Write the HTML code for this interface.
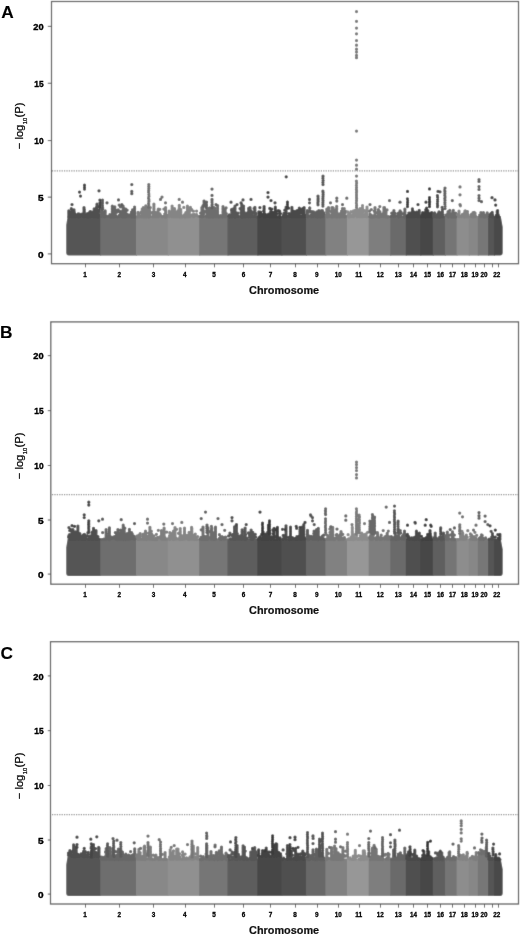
<!DOCTYPE html>
<html><head><meta charset="utf-8"><title>Manhattan plots</title>
<style>
html,body{margin:0;padding:0;background:#fff}
svg{display:block}
text{font-family:"Liberation Sans",sans-serif;fill:#111}
.yt{font-size:8.6px;font-weight:bold;fill:#000;stroke:#000;stroke-width:.38px}
.xt{font-size:6.3px;font-weight:bold;fill:#000;stroke:#000;stroke-width:.28px}
.xl{font-size:11px;font-weight:bold;stroke:#111;stroke-width:.2px}
.yl text{font-size:11.2px;fill:#000;stroke:#000;stroke-width:.22px}
.yl text.sub{font-size:5.8px}
.pl{font-size:17.3px;font-weight:bold;fill:#000;stroke:#000;stroke-width:.12px}
</style></head><body>
<svg width="520" height="935" viewBox="0 0 520 935">
<defs><filter id="soft" x="0" y="0" width="520" height="935" filterUnits="userSpaceOnUse"><feConvolveMatrix order="3" kernelMatrix="0.011 0.084 0.011 0.084 0.62 0.084 0.011 0.084 0.011" divisor="1" edgeMode="duplicate" preserveAlpha="true"/></filter></defs>
<g filter="url(#soft)">
<rect width="520" height="935" fill="#fff"/>
<path d="M67.7 215.9L101.2 215.9V255.6H68.7Q66.2 255.6 66.2 252.6V224.9Z" fill="#555555"/>
<rect x="100.2" y="215.9" width="36.8" height="39.7" fill="#6e6e6e"/>
<rect x="136" y="215.9" width="32.8" height="39.7" fill="#888888"/>
<rect x="167.8" y="215.9" width="32.4" height="39.7" fill="#909090"/>
<rect x="199.2" y="215.9" width="29.3" height="39.7" fill="#767676"/>
<rect x="227.5" y="215.9" width="30.9" height="39.7" fill="#5d5d5d"/>
<rect x="257.4" y="215.9" width="25" height="39.7" fill="#474747"/>
<rect x="281.4" y="215.9" width="25.6" height="39.7" fill="#505050"/>
<rect x="306" y="215.9" width="20.4" height="39.7" fill="#686868"/>
<rect x="325.4" y="215.9" width="22.5" height="39.7" fill="#818181"/>
<rect x="346.9" y="215.9" width="22.8" height="39.7" fill="#979797"/>
<rect x="368.7" y="215.9" width="22.5" height="39.7" fill="#7e7e7e"/>
<rect x="390.2" y="215.9" width="16.6" height="39.7" fill="#6b6b6b"/>
<rect x="405.8" y="215.9" width="15.5" height="39.7" fill="#4f4f4f"/>
<rect x="420.3" y="215.9" width="13.5" height="39.7" fill="#464646"/>
<rect x="432.8" y="215.9" width="13.1" height="39.7" fill="#5e5e5e"/>
<rect x="444.9" y="215.9" width="12.7" height="39.7" fill="#757575"/>
<rect x="456.6" y="215.9" width="13.2" height="39.7" fill="#8d8d8d"/>
<rect x="468.8" y="215.9" width="10" height="39.7" fill="#878787"/>
<rect x="477.8" y="215.9" width="11.3" height="39.7" fill="#777777"/>
<rect x="488.1" y="215.9" width="6.9" height="39.7" fill="#555555"/>
<path d="M494 215.9H500.7L502.7 226.9V252.6Q502.7 255.6 500.2 255.6H494Z" fill="#484848"/>
<path d="M87.9 215.8h0M71 215.6h0M98.8 211.5h0M81.9 215.1h0M83.8 216.9h0M99.3 206.5h0M94.4 216.6h0M98.1 215h0M98.3 216.1h0M74.1 216.4h0M98.5 215.6h0M77.7 214.4h0M71.3 208.7h0M86.1 214.7h0M96.5 215.4h0M91.3 212.8h0M74.3 212.4h0M69.4 211.7h0M75.6 216.6h0M76.2 215.4h0M73.7 216.5h0M85.7 214.9h0M79.5 214.2h0M98.8 217h0M68.8 213.8h0M90.1 211.7h0M83.2 216.4h0M91.2 214h0M91.2 216.6h0M92.9 213.6h0M79.2 216.8h0M96.3 214.6h0M81.2 215.8h0M99.2 214.5h0M81.9 215.2h0M70.8 216.2h0M87.4 213.5h0M77.6 216.8h0M96.5 216.9h0M82 214.2h0M78.4 216.9h0M93.3 213.6h0M94.3 215h0M90.4 212.4h0M78 215.2h0M77.8 215.8h0M87.9 217h0M93.4 211.9h0M87.4 216.1h0M80.5 215.8h0M97.3 216.5h0M87.7 213.8h0M95.6 215.7h0M90.7 215.4h0M88.2 216.5h0M74.9 214h0M98.8 210.5h0M85 215.8h0M78.2 213.8h0M85.4 216h0M78.7 215.8h0M84.3 216.4h0M94.4 216.7h0M77.3 216.4h0M94.6 214h0M74.7 215h0M80.7 215.7h0M98.1 213.4h0M93.7 214h0M71.5 216.4h0M91.3 215.5h0M96.4 216.7h0M96.4 215.3h0M96.4 213.9h0M96.4 212.6h0M96.4 211.2h0M96.4 211.2h0M97 216.7h0M97 215.3h0M97 213.9h0M97 212.6h0M97 211.2h0M97 209.8h0M97 208.5h0M97 207.1h0M97 205.7h0M97 204.4h0M97 204.2h0M95.9 216.7h0M95.9 215.3h0M95.9 213.9h0M95.9 212.6h0M95.9 212.5h0M90.9 216.7h0M90.9 215.3h0M90.9 213.9h0M90.9 212.6h0M90.9 211.9h0M94.2 216.7h0M94.2 215.3h0M94.2 213.9h0M94.2 212.6h0M94.2 211.2h0M94.2 209.8h0M94.2 208.8h0M72.1 216.7h0M72.1 215.3h0M72.1 213.9h0M72.1 212.6h0M72.1 211.2h0M72.1 209.8h0M72.1 209.5h0M68.8 216.7h0M68.8 215.3h0M68.8 213.9h0M68.8 212.6h0M68.8 211.2h0M68.8 210.9h0M96.6 216.7h0M96.6 215.3h0M96.6 213.9h0M96.6 212.6h0M96.6 211.2h0M96.6 209.8h0M96.6 208.5h0M96.6 207.1h0M96.6 207h0M84 216.7h0M84 215.3h0M84 213.9h0M84 212.6h0M84 211.2h0M84 209.8h0M84 208.5h0M84 207.7h0M89.6 216.7h0M89.6 215.3h0M89.6 213.9h0M89.6 212.6h0M89.6 212.4h0M71.5 216.7h0M71.5 215.3h0M71.5 213.9h0M71.5 212.6h0M71.5 212.5h0M84.3 216.7h0M84.3 215.3h0M84.3 213.9h0M84.3 212.6h0M84.3 211.2h0M84.3 209.8h0M84.3 209.7h0M74 216.7h0M74 215.3h0M74 213.9h0M74 212.6h0M74 211.2h0M74 209.9h0" stroke="#4f4f4f" stroke-width="3.25" stroke-linecap="round" fill="none"/>
<path d="M84.5 185.2h0M84.5 187.4h0M84.5 189.1h0M79.5 192h0M80.5 196h0M99 190.8h0M72 204.5h0M99.9 200h0M100 202.2h0M100 203.6h0M100.1 205h0M100.1 207.2h0M100.1 208.6h0" stroke="#454545" stroke-width="3.25" stroke-linecap="round" fill="none"/>
<path d="M134.9 213.3h0M101.5 216.6h0M116.5 216.3h0M101.5 214.2h0M128.4 216.6h0M118.2 209.8h0M132.2 216.3h0M127.6 215.5h0M114.9 214.1h0M131.1 216.7h0M127.2 216.1h0M114.9 216.5h0M133.3 216.9h0M112.6 216.9h0M123 216.6h0M127.1 210.2h0M118.4 211.4h0M120.4 206.8h0M122.8 215.6h0M103 212.6h0M110.8 217h0M131.7 216.2h0M102.7 208.8h0M117.3 210.9h0M133.1 216.5h0M117 210.3h0M115.3 215.9h0M119.2 205.1h0M133.6 216.4h0M131.5 215.9h0M110.3 216.8h0M122.7 216.2h0M134.5 213.6h0M112.8 216.3h0M105.1 215.6h0M122.3 216h0M109.8 215.6h0M113.6 217h0M119.8 216.2h0M117.6 216.8h0M111.2 215.9h0M111.4 216.4h0M105 216.6h0M120.5 213.5h0M133.1 213.7h0M116 215.6h0M114.7 213h0M120.3 215.7h0M119.5 215.2h0M127 214.4h0M120.4 211.4h0M123.3 215.6h0M103.8 216.3h0M112.6 211.3h0M119.4 216.5h0M125.2 213.6h0M115 215.3h0M123.8 214.9h0M128.6 215.2h0M131.4 212h0M125.3 215.6h0M106 216.3h0M123.2 215.9h0M119.7 215.5h0M131.3 213.6h0M133.4 215.7h0M134.9 217h0M128.2 216.5h0M109.9 214.7h0M129.1 215h0M110.2 216.5h0M117 212.1h0M121.1 214.9h0M111.4 215.8h0M115.3 213.6h0M104.1 215.3h0M134.1 215.3h0M113.9 216.6h0M134.9 215.7h0M107.8 216.4h0M112.3 216.7h0M112.3 215.3h0M112.3 213.9h0M112.3 212.6h0M112.3 211.2h0M112.3 209.8h0M112.3 208.5h0M112.3 207.1h0M112.3 206.2h0M125.8 216.7h0M125.8 215.3h0M125.8 213.9h0M125.8 212.6h0M125.8 211.2h0M125.8 209.8h0M125.8 209.2h0M104.2 216.7h0M104.2 215.3h0M104.2 213.9h0M104.2 212.7h0M124.2 216.7h0M124.2 215.3h0M124.2 213.9h0M124.2 212.6h0M124.2 211.2h0M124.2 209.8h0M124.2 208.7h0M114.8 216.7h0M114.8 215.3h0M114.8 213.9h0M114.8 212.6h0M114.8 211.2h0M114.8 209.8h0M114.8 208.5h0M114.8 207.1h0M114.8 206.9h0M104.1 216.7h0M104.1 215.3h0M104.1 213.9h0M104.1 212.6h0M104.1 212h0M105.2 216.7h0M105.2 215.3h0M105.2 213.9h0M105.2 212.6h0M105.2 211.2h0M105.2 210.9h0M132.5 216.7h0M132.5 215.3h0M132.5 213.9h0M132.5 212.6h0M132.5 211.2h0M132.5 209.9h0M123.1 216.7h0M123.1 215.3h0M123.1 213.9h0M123.1 212.6h0M123.1 211.2h0M123.1 209.8h0M123.1 208.5h0M123.1 207.1h0M123.1 206.2h0M114.2 216.7h0M114.2 215.3h0M114.2 213.9h0M114.2 212.6h0M114.2 211.2h0M114.2 210.8h0M101.5 216.7h0M101.5 215.3h0M101.5 213.9h0M101.5 212.6h0M101.5 211.2h0M101.5 209.8h0M101.5 209.4h0M134.6 216.7h0M134.6 215.3h0M134.6 213.9h0M134.6 212.6h0M134.6 211.2h0M134.6 209.8h0M134.6 208.5h0M134.6 207.1h0M134.6 207h0M121.8 216.7h0M121.8 215.3h0M121.8 213.9h0M121.8 213.2h0M112.7 216.7h0M112.7 215.3h0M112.7 213.9h0M112.7 212.6h0M112.7 211.2h0M112.7 209.8h0M112.7 209.2h0" stroke="#666666" stroke-width="3.25" stroke-linecap="round" fill="none"/>
<path d="M131.8 184.6h0M131.8 191.4h0M131.8 193.7h0M118.5 199.9h0M121.8 204.5h0M107 202.8h0M102.5 200h0M102.5 202.1h0M102.4 203.6h0M102.4 205.6h0M102.6 207.4h0M102.4 209.2h0" stroke="#5a5a5a" stroke-width="3.25" stroke-linecap="round" fill="none"/>
<path d="M160.6 215.4h0M159.9 213.9h0M158.3 209.2h0M152.4 216.5h0M144.8 213.8h0M166.8 215.5h0M154.1 215.3h0M142.2 209.1h0M165.2 217h0M146.1 216.9h0M154.7 215.6h0M137.9 216.9h0M141.2 211.9h0M157.6 216.1h0M166.8 215.2h0M138.5 216.4h0M164 216.4h0M154.8 216.2h0M138.9 213.7h0M166 216.9h0M153 212.3h0M138.7 214.1h0M151.9 213h0M164.7 214.1h0M142.7 215.2h0M142 214.5h0M140 216.4h0M146.3 214h0M163.1 216.5h0M140.9 216.7h0M146.1 216.6h0M143.9 216.9h0M156.8 214.4h0M145.9 213.3h0M145.4 216.2h0M163.9 209h0M156.7 215.9h0M162.3 216.8h0M152.5 212.3h0M142.1 215.9h0M160.1 215.8h0M153.2 215.8h0M157.7 215.3h0M143.3 211.1h0M159.8 209.3h0M144.1 214.2h0M166.9 216.1h0M147 210h0M149 217h0M157.8 214.7h0M154.6 214.3h0M150.3 207.5h0M157.3 214.8h0M139 216.7h0M164.7 216.5h0M141.4 212.9h0M147.7 216.1h0M158.6 213.8h0M149.6 216.7h0M149.6 215.3h0M149.6 213.9h0M149.6 212.6h0M149.6 211.2h0M149.6 209.9h0M158.1 216.7h0M158.1 215.3h0M158.1 213.9h0M158.1 212.6h0M158.1 211.2h0M158.1 210.3h0M156.9 216.7h0M156.9 215.3h0M156.9 213.9h0M156.9 212.6h0M156.9 212.5h0M145.3 216.7h0M145.3 215.3h0M145.3 213.9h0M145.3 212.6h0M145.3 211.2h0M145.3 209.8h0M145.3 208.5h0M145.3 208.3h0M148.5 216.7h0M148.5 215.3h0M148.5 213.9h0M148.5 212.6h0M148.5 211.2h0M148.5 209.8h0M148.5 208.5h0M148.5 207.6h0M145.6 216.7h0M145.6 215.3h0M145.6 213.9h0M145.6 212.6h0M145.6 211.2h0M145.6 211.1h0M138 216.7h0M138 215.3h0M138 213.9h0M138 212.6h0M138 212.3h0M153.9 216.7h0M153.9 215.3h0M153.9 213.9h0M153.9 212.6h0M153.9 211.2h0M153.9 209.8h0M153.9 208.5h0M153.9 207.1h0M153.9 205.7h0M153.9 204.4h0M153.9 204.2h0M145.8 216.7h0M145.8 215.3h0M145.8 213.9h0M145.8 212.6h0M145.8 211.2h0M145.8 209.8h0M145.8 208.5h0M145.8 207.1h0M145.8 205.8h0M143.3 216.7h0M143.3 215.3h0M143.3 213.9h0M143.3 212.6h0M143.3 211.2h0M143.3 209.8h0M143.3 208.5h0M143.3 207.6h0M165.6 216.7h0M165.6 215.3h0M165.6 213.9h0M165.6 212.6h0M165.6 211.2h0M165.6 209.8h0M165.6 208.5h0M165.6 207.5h0M155.9 216.7h0M155.9 215.3h0M155.9 213.9h0M155.9 212.6h0M155.9 212.5h0" stroke="#7e7e7e" stroke-width="3.25" stroke-linecap="round" fill="none"/>
<path d="M162 197.1h0M160.5 199.4h0M165.5 202.8h0M148.8 184.5h0M148.8 186.4h0M148.8 188.3h0M148.7 190.3h0M148.6 192.1h0M148.8 194.1h0M148.9 196.2h0M148.6 198.2h0M148.9 199.9h0M148.9 201.4h0M148.6 203.5h0M148.8 205.1h0M148.6 207.1h0" stroke="#6f6f6f" stroke-width="3.25" stroke-linecap="round" fill="none"/>
<path d="M186 216.6h0M185.1 216.6h0M178.9 214.2h0M185.8 212.7h0M193.3 214.5h0M180 213.8h0M179.3 210.5h0M175.4 216.8h0M193.4 211.2h0M189.9 216.7h0M189.1 211.6h0M177.1 216.2h0M182.1 216h0M194.4 214.6h0M183.7 215.7h0M180.3 216.5h0M176.1 216.5h0M191.2 215.1h0M181.1 216.6h0M187.2 215.3h0M179.8 216.9h0M196.6 211.1h0M172.6 216.7h0M180.4 213h0M190.4 207.4h0M177.8 215.7h0M191.4 210.1h0M180.2 216.7h0M184.9 215.7h0M171.8 213h0M170.5 214.2h0M181 215.6h0M185 217h0M196.6 214.7h0M193.4 216.4h0M174.9 211.9h0M192.7 215.8h0M192.5 215.3h0M191.5 209.3h0M171.6 212.3h0M180.6 216.6h0M176.1 213.8h0M179.6 217h0M176.9 213.9h0M178.6 216.3h0M174.9 216.3h0M184.9 216.8h0M180.8 216.6h0M188.8 212.5h0M179.2 208.6h0M195.1 214.9h0M193.6 216.7h0M182.1 216.9h0M186.3 213.1h0M198.2 216.3h0M177.9 216.3h0M175.6 215.1h0M187.9 212.9h0M193.3 215.7h0M183.8 207.4h0M170.5 214.6h0M184.6 214.7h0M185.1 215.8h0M192.4 214.9h0M195.6 215.7h0M178.9 214.7h0M187.4 216.7h0M187.4 215.3h0M187.4 213.9h0M187.4 212.6h0M187.4 211.2h0M187.4 209.8h0M187.4 208.5h0M187.4 207.1h0M187.4 206.1h0M174.5 216.7h0M174.5 215.3h0M174.5 213.9h0M174.5 212.6h0M174.5 211.2h0M174.5 209.8h0M174.5 208.5h0M169.1 216.7h0M169.1 215.3h0M169.1 213.9h0M169.1 212.6h0M169.1 211.2h0M169.1 211h0M187.4 216.7h0M187.4 215.3h0M187.4 213.9h0M187.4 212.6h0M187.4 211.2h0M187.4 210.7h0M189.3 216.7h0M189.3 215.3h0M189.3 213.9h0M189.3 212.6h0M189.3 212.4h0M189.3 216.7h0M189.3 215.3h0M189.3 213.9h0M189.3 212.6h0M189.3 211.2h0M189.3 210.5h0M172.1 216.7h0M172.1 215.3h0M172.1 213.9h0M172.1 212.6h0M172.1 211.2h0M172.1 209.8h0M172.1 208.5h0M172.1 207.1h0M172.1 206.1h0M179.3 216.7h0M179.3 215.3h0M179.3 213.9h0M179.3 212.6h0M179.3 211.2h0M179.3 209.8h0M179.3 208.5h0M179.3 207.1h0M179.3 205.7h0M179.3 205.3h0M189.2 216.7h0M189.2 215.3h0M189.2 213.9h0M189.2 212.6h0M189.2 211.2h0M189.2 209.8h0M189.2 208.5h0M189.2 208.2h0M177.8 216.7h0M177.8 215.3h0M177.8 213.9h0M177.8 212.6h0M177.8 211.2h0M177.8 210.8h0M187.4 216.7h0M187.4 215.3h0M187.4 213.9h0M187.4 212.6h0M187.4 211.2h0M187.4 209.8h0M187.4 208.6h0M180.8 216.7h0M180.8 215.3h0M180.8 213.9h0M180.8 212.6h0M180.8 211.2h0M180.8 209.8h0M180.8 209.7h0" stroke="#858585" stroke-width="3.25" stroke-linecap="round" fill="none"/>
<path d="M179.2 199.4h0M182.5 202.2h0" stroke="#767676" stroke-width="3.25" stroke-linecap="round" fill="none"/>
<path d="M222.8 216.8h0M212.1 213h0M210.3 216.3h0M218.6 216.9h0M203.5 214.1h0M209.1 215.4h0M219.3 216.9h0M209.2 214.1h0M208.4 216.9h0M216.2 211.1h0M226.1 207.8h0M210.6 215.3h0M217.4 216.6h0M210.5 216.3h0M221.7 216.4h0M223 212.6h0M207.8 215.9h0M212.3 215h0M202.8 215h0M204.1 211.1h0M216.3 214.8h0M221.9 216.3h0M213.1 217h0M223.7 212.5h0M208 216.3h0M206.1 216.2h0M210.9 211.4h0M207.2 215.7h0M211.4 214.8h0M226.3 215.3h0M221.9 215.8h0M200.6 213h0M200.1 216.3h0M211.2 216.8h0M226.3 213.6h0M202 215.9h0M211.8 216.2h0M208.5 216.3h0M222.3 216.9h0M210.1 216.8h0M215.3 215.1h0M212.8 210.1h0M208.8 216.7h0M226.1 213.8h0M206.2 216.2h0M204 212.3h0M220.4 215.6h0M202.6 215.9h0M203.2 216.1h0M215.6 214h0M224.7 216.7h0M209.7 212.3h0M222.9 216.4h0M213.6 216.7h0M213.6 215.3h0M213.6 213.9h0M213.6 212.6h0M213.6 211.2h0M213.6 209.8h0M213.6 208.5h0M213.6 207.6h0M223 216.7h0M223 215.3h0M223 213.9h0M223 212.6h0M223 211.2h0M223 209.8h0M223 208.5h0M223 207.1h0M223 206.7h0M214.5 216.7h0M214.5 215.3h0M214.5 213.9h0M214.5 212.6h0M214.5 211.2h0M214.5 209.8h0M214.5 208.5h0M214.5 207.8h0M217.6 216.7h0M217.6 215.3h0M217.6 213.9h0M217.6 212.6h0M217.6 211.2h0M217.6 209.8h0M217.6 208.5h0M217.6 207.1h0M217.6 205.7h0M217.6 205.5h0M206.9 216.7h0M206.9 215.3h0M206.9 213.9h0M206.9 212.6h0M206.9 211.2h0M206.9 209.8h0M206.9 209.7h0M209.7 216.7h0M209.7 215.3h0M209.7 213.9h0M209.7 212.6h0M209.7 211.2h0M209.7 209.8h0M209.7 208.5h0M209.7 208.1h0M212.1 216.7h0M212.1 215.3h0M212.1 213.9h0M212.1 212.6h0M212.1 211.2h0M212.1 209.8h0M212.1 209.5h0M225.2 216.7h0M225.2 215.3h0M225.2 213.9h0M225.2 212.6h0M225.2 211.2h0M225.2 209.8h0M225.2 209.2h0M209.3 216.7h0M209.3 215.3h0M209.3 213.9h0M209.3 212.6h0M209.3 211.2h0M209.3 209.8h0M209.3 208.5h0M209.3 208.2h0M202.9 216.7h0M202.9 215.3h0M202.9 213.9h0M202.9 212.6h0M202.9 211.2h0M202.9 209.8h0M202.9 208.5h0M202.9 207.1h0M202.9 205.9h0M201.9 216.7h0M201.9 215.3h0M201.9 213.9h0M201.9 212.6h0M201.9 211.2h0M201.9 209.8h0M201.9 208.5h0M201.9 207.5h0" stroke="#6d6d6d" stroke-width="3.25" stroke-linecap="round" fill="none"/>
<path d="M212 189.1h0M212 195.4h0M212 199.4h0M216 204.5h0M204 201.1h0M212 200h0M212 202.1h0M212.1 204.3h0M212 205.8h0M211.9 207.6h0M204.1 201h0M204.1 202.6h0M203.9 204.4h0M203.9 206h0M206.6 202h0M206.4 204.2h0M206.5 205.8h0M206.4 207.5h0" stroke="#606060" stroke-width="3.25" stroke-linecap="round" fill="none"/>
<path d="M256.1 216.8h0M252.5 215.8h0M237.8 216.6h0M254.9 210.6h0M255.2 213.3h0M252.6 213h0M245 216.8h0M243 211.9h0M252.9 212h0M251.8 216.7h0M249.7 215.6h0M250.8 210.7h0M228.7 216h0M234.9 214.4h0M235 217h0M235.5 214.5h0M248.9 216.8h0M230.5 216.1h0M240 208.6h0M254.1 208.4h0M250.6 215.9h0M237.9 215.8h0M245.1 216.3h0M241.8 215.4h0M234.1 214.5h0M255.5 213.1h0M238 213.1h0M232.3 216.5h0M232.1 216.8h0M253.3 216.4h0M236 212.8h0M237.1 216.1h0M250.7 210.9h0M233.7 212.6h0M233.2 216.3h0M234.5 215.7h0M242.4 217h0M254.8 214.9h0M242.7 209.6h0M231 216.7h0M242.4 213.4h0M251.8 215.7h0M235.5 213.9h0M244 212.5h0M236.5 215.1h0M251.9 215.6h0M256 213.6h0M247.7 215.7h0M248.4 215.6h0M235.2 213.5h0M238 215.8h0M245.6 213.7h0M230.1 216.9h0M231.4 209.9h0M233.6 216.7h0M249.8 209.5h0M252.9 216h0M250.5 214.6h0M244.4 212.7h0M246.8 216h0M247.7 212.7h0M237.7 213.3h0M255.5 216h0M229.3 214.8h0M235 216.7h0M235 215.3h0M235 213.9h0M235 212.6h0M235 211.2h0M235 209.8h0M235 208.5h0M235 207.1h0M235 206.2h0M231.8 216.7h0M231.8 215.3h0M231.8 213.9h0M231.8 212.6h0M231.8 211.2h0M231.8 209.8h0M231.8 209.3h0M249.9 216.7h0M249.9 215.3h0M249.9 213.9h0M249.9 212.6h0M249.9 211.2h0M249.9 209.8h0M249.9 208.6h0M254.9 216.7h0M254.9 215.3h0M254.9 213.9h0M254.9 212.6h0M254.9 211.2h0M254.9 209.8h0M254.9 208.5h0M254.9 207.3h0M243.6 216.7h0M243.6 215.3h0M243.6 213.9h0M243.6 212.6h0M243.6 211.2h0M243.6 209.8h0M243.6 208.5h0M243.6 207.1h0M243.6 206h0M233.7 216.7h0M233.7 215.3h0M233.7 213.9h0M233.7 212.6h0M233.7 211.2h0M233.7 209.8h0M233.7 208.5h0M232.6 216.7h0M232.6 215.3h0M232.6 213.9h0M232.6 212.6h0M232.6 211.2h0M232.6 209.8h0M232.6 209.6h0M248.7 216.7h0M248.7 215.3h0M248.7 213.9h0M248.7 212.6h0M248.7 211.2h0M248.7 209.8h0M248.7 208.5h0M248.7 208.3h0M250 216.7h0M250 215.3h0M250 213.9h0M250 212.6h0M250 211.2h0M250 209.8h0M250 208.5h0M250 207.7h0M241.2 216.7h0M241.2 215.3h0M241.2 213.9h0M241.2 212.6h0M241.2 211.2h0M241.2 210.7h0M241.7 216.7h0M241.7 215.3h0M241.7 213.9h0M241.7 212.6h0M241.7 211.2h0M241.7 209.8h0M241.7 208.5h0M241.7 207.1h0M241.7 205.7h0M241.7 204.4h0M241.7 204.3h0" stroke="#565656" stroke-width="3.25" stroke-linecap="round" fill="none"/>
<path d="M231 202.2h0M237 204.5h0M243 199.9h0M241 202.8h0M251 199.4h0" stroke="#4c4c4c" stroke-width="3.25" stroke-linecap="round" fill="none"/>
<path d="M264.2 216.7h0M272.8 216.8h0M260.6 212.2h0M275.9 216.6h0M268.8 214.5h0M278.3 210.6h0M273.2 216.3h0M264.8 216.4h0M279.5 217h0M267.5 216h0M271.3 215.4h0M271.4 216.5h0M275.3 216.2h0M270.4 209.1h0M261.3 215.9h0M265.5 216.4h0M272.2 214.2h0M264.9 216.7h0M273.7 215.3h0M265.2 214.6h0M260.1 215.7h0M269.2 216.7h0M258.8 215.4h0M274 216.6h0M265.8 214.5h0M271.8 209.1h0M276.7 213.6h0M266.2 216.6h0M263 214.4h0M264.3 216.9h0M260.7 215h0M265.2 214.3h0M273 216.7h0M270.1 215.8h0M258.9 215.7h0M262.5 214.7h0M276.9 216.8h0M273.7 216.3h0M270.6 214.4h0M280.4 213.6h0M263.7 211.1h0M265.1 214.8h0M269.8 208.4h0M259.9 207.6h0M268.6 214h0M272.3 216.7h0M272.3 215.3h0M272.3 213.9h0M272.3 213.4h0M272.9 216.7h0M272.9 215.3h0M272.9 213.9h0M272.9 212.6h0M272.9 212.3h0M275.3 216.7h0M275.3 215.3h0M275.3 213.9h0M275.3 212.6h0M275.3 211.2h0M275.3 209.8h0M275.3 208.5h0M275.3 207.2h0M270.7 216.7h0M270.7 215.3h0M270.7 213.9h0M270.7 212.6h0M270.7 211.8h0M264.1 216.7h0M264.1 215.3h0M264.1 213.9h0M264.1 212.6h0M264.1 211.2h0M264.1 209.8h0M264.1 208.5h0M264.1 207.1h0M264.1 206.5h0M275.2 216.7h0M275.2 215.3h0M275.2 213.9h0M275.2 213.4h0M276.1 216.7h0M276.1 215.3h0M276.1 213.9h0M276.1 212.6h0M276.1 212.6h0M258.9 216.7h0M258.9 215.3h0M258.9 213.9h0M258.9 212.6h0M258.9 211.8h0M279.7 216.7h0M279.7 215.3h0M279.7 213.9h0M279.7 212.6h0M279.7 211.2h0" stroke="#424242" stroke-width="3.25" stroke-linecap="round" fill="none"/>
<path d="M268 192.5h0M268 197.1h0M271 200.5h0M275 202.8h0" stroke="#3a3a3a" stroke-width="3.25" stroke-linecap="round" fill="none"/>
<path d="M293.6 211.3h0M303.3 216.8h0M301.6 216.6h0M304.7 216.9h0M295.8 213.6h0M293.7 216h0M286.6 216.4h0M284 214.7h0M293 215.1h0M296.5 216.2h0M299.7 216.5h0M283.4 215.3h0M291 216.6h0M290.8 216.6h0M299.5 215.9h0M298.3 213.3h0M301.8 216.1h0M284.8 210.2h0M299.2 214.7h0M304.3 214.1h0M295.5 214.2h0M305.2 215.2h0M297.3 211.8h0M301.9 209.2h0M288.5 208.2h0M293.3 216.5h0M301.9 213h0M300.2 211.4h0M297.7 211.3h0M301.2 216.8h0M294.8 214.9h0M296.1 215.4h0M297.6 216.4h0M295.6 214.8h0M297.8 210.7h0M288.8 216h0M296.2 216.8h0M305 215.8h0M293.8 215.6h0M291.3 213.5h0M296 216.1h0M290.7 214.3h0M302.7 216.2h0M283.7 216.8h0M285.5 215.9h0M302.9 215.8h0M289.1 213.6h0M283.9 213.4h0M289.6 216.4h0M303 216.7h0M303 215.3h0M303 213.9h0M303 212.6h0M303 211.2h0M303 209.8h0M303 208.5h0M303 208.3h0M293.8 216.7h0M293.8 215.3h0M293.8 213.9h0M293.8 212.6h0M293.8 211.8h0M304.1 216.7h0M304.1 215.3h0M304.1 213.9h0M304.1 212.6h0M304.1 211.2h0M304.1 209.8h0M304.1 208.5h0M304.1 207.5h0M294.9 216.7h0M294.9 215.3h0M294.9 213.9h0M294.9 212.6h0M294.9 211.4h0M299.3 216.7h0M299.3 215.3h0M299.3 213.9h0M299.3 212.6h0M299.3 211.2h0M299.3 209.8h0M299.3 208.5h0M299.3 208.1h0M291.9 216.7h0M291.9 215.3h0M291.9 213.9h0M291.9 212.6h0M291.9 211.2h0M291.9 209.8h0M291.9 208.5h0M291.9 207.3h0M292.9 216.7h0M292.9 215.3h0M292.9 213.9h0M292.9 212.9h0M286.1 216.7h0M286.1 215.3h0M286.1 213.9h0M286.1 212.6h0M286.1 211.2h0M286.1 209.8h0M286.1 208.5h0M286.1 207.2h0M297 216.7h0M297 215.3h0M297 213.9h0M297 212.6h0M297 211.2h0M297 210.7h0" stroke="#4a4a4a" stroke-width="3.25" stroke-linecap="round" fill="none"/>
<path d="M286.2 176.8h0M287.5 202.2h0M287.4 202h0M287.4 204.2h0M287.5 206.3h0M287.5 207.7h0" stroke="#414141" stroke-width="3.25" stroke-linecap="round" fill="none"/>
<path d="M309.9 210.7h0M317.7 216h0M317.6 214.5h0M313.1 215h0M321 216.8h0M321 213.4h0M318.2 214.2h0M311.8 216.4h0M308.2 215.8h0M323.2 214.7h0M309.6 208h0M317.1 214.1h0M323.8 216.1h0M320.6 216.9h0M319.5 216.7h0M316.9 215.8h0M309.7 211.9h0M311.8 215.9h0M312.7 215.1h0M311.6 216h0M317.3 216.9h0M311.4 216.8h0M324.4 215.2h0M321.5 210.5h0M310 216.1h0M321.4 212.9h0M322.8 213.8h0M318.3 216.5h0M319 216.5h0M314.4 212.7h0M317.3 215.2h0M319.7 215.8h0M312.4 216h0M315.2 215.7h0M311.5 215.5h0M323.9 212.9h0M309.8 208.1h0M310.4 215.6h0M314.7 215.2h0M322.8 214.7h0M314.3 212.7h0M317.4 215.4h0M316.9 216.7h0M316.9 215.3h0M316.9 213.9h0M316.9 212.6h0M316.9 211.8h0M318.8 216.7h0M318.8 215.3h0M318.8 213.9h0M318.8 212.6h0M318.8 211.2h0M318.8 210.6h0M313.5 216.7h0M313.5 215.3h0M313.5 213.9h0M313.5 212.6h0M313.5 211.9h0M312.1 216.7h0M312.1 215.3h0M312.1 213.9h0M312.1 212.6h0M312.1 211.6h0M307.3 216.7h0M307.3 215.3h0M307.3 213.9h0M307.3 212.6h0M307.3 211.2h0M307.3 210.5h0M322.4 216.7h0M322.4 215.3h0M322.4 213.9h0M322.4 212.6h0M322.4 211.2h0M322.4 210.6h0M316.2 216.7h0M316.2 215.3h0M316.2 213.9h0M316.2 213.5h0" stroke="#606060" stroke-width="3.25" stroke-linecap="round" fill="none"/>
<path d="M309.5 199.4h0M309.5 202.8h0M318 196h0M318 199.9h0M323 176.2h0M322.9 178.2h0M323.1 180.5h0M322.9 182.5h0M323 184.5h0M322.9 191.2h0M323.1 192.8h0M323.1 194.7h0M323 196.8h0M322.9 198.7h0M323 200.7h0M322.9 202.8h0M322.9 204.5h0M322.9 206h0M318 196.5h0M318.1 198.2h0M318.1 199.7h0M318.1 201.2h0M317.9 202.9h0M318 204.8h0" stroke="#555555" stroke-width="3.25" stroke-linecap="round" fill="none"/>
<path d="M342 215.3h0M344 216.5h0M336.7 215.5h0M338.1 213.9h0M333.7 212.6h0M329.1 216.2h0M335.9 216.4h0M332.3 214.5h0M340.8 214.6h0M327.8 216.6h0M343.8 213.1h0M331.6 216.9h0M344.9 213.2h0M344.3 215.4h0M330.4 216.4h0M341.9 214.2h0M345.4 211.2h0M341.1 216.1h0M336.7 217h0M329.1 211.2h0M345.3 212.5h0M344.6 215.2h0M343.1 215.5h0M340.8 215.3h0M327.4 216.4h0M335.9 214.3h0M339.6 217h0M344.1 216.5h0M334.5 216.7h0M344.4 216.9h0M326.6 214.8h0M338.3 216.4h0M339.8 213.9h0M342.3 212h0M342.4 208.7h0M343.2 216.1h0M333.2 208.1h0M334.6 215.7h0M333 210.7h0M332.2 214.2h0M342.4 216.1h0M343.4 216.4h0M341.1 215.2h0M345.9 216h0M328.9 211.4h0M327.6 216.9h0M332.6 217h0M344.2 208.5h0M343.9 213.6h0M331.2 215.4h0M326.2 215.8h0M327.4 214.4h0M342.5 216.7h0M342.5 215.3h0M342.5 213.9h0M342.5 212.6h0M342.5 211.2h0M342.5 209.8h0M342.5 209.8h0M326.8 216.7h0M326.8 215.3h0M326.8 213.9h0M326.8 212.6h0M326.8 211.2h0M326.8 209.8h0M326.8 209.2h0M336.7 216.7h0M336.7 215.3h0M336.7 213.9h0M336.7 212.6h0M336.7 211.2h0M336.7 209.8h0M336.7 208.5h0M336.7 207.1h0M336.7 206.4h0M328.5 216.7h0M328.5 215.3h0M328.5 213.9h0M328.5 212.6h0M328.5 211.2h0M328.5 209.8h0M328.5 208.5h0M328.5 207.6h0M332.8 216.7h0M332.8 215.3h0M332.8 213.9h0M332.8 212.6h0M332.8 211.2h0M332.8 209.8h0M332.8 208.5h0M332.8 207.7h0M334.4 216.7h0M334.4 215.3h0M334.4 213.9h0M334.4 212.6h0M334.4 211.2h0M334.4 210h0M331.9 216.7h0M331.9 215.3h0M331.9 213.9h0M331.9 212.6h0M331.9 211.2h0M331.9 209.8h0M331.9 208.5h0M331.9 207.5h0M341.5 216.7h0M341.5 215.3h0M341.5 213.9h0M341.5 212.6h0M341.5 211.2h0M341.5 211.2h0" stroke="#777777" stroke-width="3.25" stroke-linecap="round" fill="none"/>
<path d="M336.8 198.2h0M336.8 201.1h0M330.5 202.8h0M342.5 204.5h0M346.8 198.2h0" stroke="#696969" stroke-width="3.25" stroke-linecap="round" fill="none"/>
<path d="M347.7 211.9h0M362.9 210.3h0M355.1 212.6h0M354 215.5h0M361.6 215.4h0M350.9 211.7h0M366.2 213.6h0M355.1 214h0M348.6 214.6h0M356.6 215.7h0M353 215.6h0M362.1 212.7h0M349.5 216.8h0M350.1 213.2h0M364.9 214.6h0M355.6 210h0M351.1 216.5h0M349.4 215.8h0M363.9 215.5h0M348.3 214.9h0M361.5 215.7h0M357.6 213.9h0M364.6 215.5h0M356.4 214.9h0M367.3 216.3h0M365.5 213.6h0M349 216.9h0M364.2 216.4h0M356.4 215.3h0M348.3 215.7h0M366.1 216.4h0M353.5 216.2h0M352.9 214.8h0M361.4 214.4h0M354.7 212.4h0M349.7 216.1h0M350.6 216.3h0M366.5 215.5h0M364.6 210.5h0M359.9 213.2h0M360.7 214.9h0M356.5 215.2h0M365.6 212.8h0M351.3 215.9h0M360.7 216.7h0M360.7 215.3h0M360.7 213.9h0M360.7 212.6h0M360.7 211.2h0M360.7 209.8h0M360.7 208.9h0M357.4 216.7h0M357.4 215.3h0M357.4 213.9h0M357.4 212.6h0M357.4 211.2h0M357.4 209.8h0M357.4 209.6h0M357.1 216.7h0M357.1 215.3h0M357.1 213.9h0M357.1 212.6h0M357.1 211.2h0M357.1 209.8h0M357.1 209.3h0M362.5 216.7h0M362.5 215.3h0M362.5 213.9h0M362.5 212.6h0M362.5 211.2h0M362.5 209.8h0M362.5 208.5h0M362.5 207.1h0M362.5 205.7h0M362.5 205.7h0M360.1 216.7h0M360.1 215.3h0M360.1 213.9h0M360.1 212.6h0M360.1 211.2h0M360.1 209.8h0M360.1 208.7h0M353.5 216.7h0M353.5 215.3h0M353.5 213.9h0M353.5 212.6h0M353.5 211.2h0M353.5 210.8h0M362.5 216.7h0M362.5 215.3h0M362.5 213.9h0M362.5 212.6h0M362.5 211.2h0M362.5 209.8h0M362.5 209.2h0M367 216.7h0M367 215.3h0M367 213.9h0M367 212.6h0M367 211.2h0M367 209.8h0M367 208.5h0M367 207.1h0M367 207h0" stroke="#8c8c8c" stroke-width="3.25" stroke-linecap="round" fill="none"/>
<path d="M356.5 11.6h0M356.5 21.3h0M356.5 28.1h0M356.5 33.8h0M356.5 40.6h0M356.5 45.2h0M356.5 49.2h0M356.5 52h0M356.5 55.4h0M356.5 57.7h0M356.5 131.1h0M356.5 160.1h0M356.5 165.2h0M356.5 169.2h0M356.5 176h0M356.4 181h0M356.6 183h0M356.4 185.3h0M356.5 187.4h0M356.4 189.3h0M356.6 191h0M356.5 192.7h0M356.5 194.9h0M356.5 197h0M356.6 198.7h0M356.5 200.7h0M356.4 203h0M356.6 205.2h0M356.5 207.2h0" stroke="#7b7b7b" stroke-width="3.25" stroke-linecap="round" fill="none"/>
<path d="M371.3 217h0M379.8 206.6h0M371.3 215.1h0M369.6 211h0M378.3 214.9h0M375.9 212.6h0M380.4 215h0M385.3 215.9h0M374.2 211.1h0M374.6 216.7h0M378.2 216.9h0M374.6 215.1h0M374.8 214.9h0M388.4 216.5h0M371.3 209.6h0M379.4 215.3h0M387.6 217h0M379.6 216.9h0M374 216.9h0M381.2 216.4h0M372.4 217h0M383.5 215.4h0M375.2 213.1h0M378.1 215.7h0M382.6 213.8h0M377.3 216.2h0M370 214.2h0M369.8 216.5h0M374.1 216.1h0M379.6 215.9h0M387 209.9h0M386 216.2h0M383.4 214.6h0M378.4 216.7h0M378.4 215.3h0M378.4 213.9h0M378.4 212.6h0M378.4 211.2h0M378.4 210.2h0M384.5 216.7h0M384.5 215.3h0M384.5 213.9h0M384.5 212.6h0M384.5 211.2h0M384.5 209.8h0M384.5 208.5h0M384.5 207.5h0M383.9 216.7h0M383.9 215.3h0M383.9 213.9h0M383.9 212.6h0M383.9 211.2h0M383.9 209.8h0M383.9 208.5h0M383.9 207.5h0M378.4 216.7h0M378.4 215.3h0M378.4 213.9h0M378.4 212.6h0M378.4 211.2h0M378.4 209.8h0M378.4 209.6h0M386 216.7h0M386 215.3h0M386 213.9h0M386 212.6h0M386 211.2h0M386 210.5h0M379.8 216.7h0M379.8 215.3h0M379.8 213.9h0M379.8 212.6h0M379.8 211.7h0M375 216.7h0M375 215.3h0M375 213.9h0M375 212.6h0M375 211.2h0M375 209.8h0M375 208.5h0M375 207.6h0" stroke="#757575" stroke-width="3.25" stroke-linecap="round" fill="none"/>
<path d="M370 204.5h0M389.5 200.5h0" stroke="#676767" stroke-width="3.25" stroke-linecap="round" fill="none"/>
<path d="M392.9 214.4h0M404.6 216.1h0M395.2 213.4h0M400.4 215.7h0M404.1 216.7h0M399 215h0M391.7 213.2h0M404.3 217h0M393.5 216.6h0M404.6 214.9h0M400.9 215.5h0M403.8 213.7h0M391.1 216.4h0M397.8 215.5h0M400.4 213.3h0M398.3 216.4h0M395.2 216.1h0M404.1 213.4h0M395 216.2h0M404.5 214.9h0M398.6 213.3h0M398.6 217h0M400.1 216.7h0M400.1 215.3h0M400.1 213.9h0M400.1 212.6h0M400.1 211.2h0M400.1 210.8h0M393.9 216.7h0M393.9 215.3h0M393.9 213.9h0M393.9 212.6h0M393.9 211.2h0M393.9 210.5h0M398.4 216.7h0M398.4 215.3h0M398.4 213.9h0M398.4 213.2h0M401 216.7h0M401 215.3h0M401 213.9h0M401 212.6h0M401 212.2h0M404.9 216.7h0M404.9 215.3h0M404.9 213.9h0M404.9 212.6h0M404.9 211.2h0M404.9 209.8h0M404.9 209.1h0" stroke="#636363" stroke-width="3.25" stroke-linecap="round" fill="none"/>
<path d="M400 202.2h0" stroke="#575757" stroke-width="3.25" stroke-linecap="round" fill="none"/>
<path d="M416.5 212.1h0M413.8 216.7h0M415.1 213.8h0M408.9 213h0M409.8 213h0M412.6 216.6h0M407.5 216.7h0M408.1 216.6h0M408.9 216.1h0M417.4 215.5h0M408.7 216.7h0M407.6 215.4h0M419.1 214.4h0M417.3 216.5h0M413.1 211.4h0M414.8 216.2h0M414.2 213.4h0M410.1 214.6h0M414.6 212.6h0M413.8 216.7h0M411.3 216.7h0M407.3 216.2h0M416.3 215.6h0M410.4 215.8h0M409.9 216.6h0M416.1 216.1h0M413.4 214.3h0M419.3 216.1h0M418.5 216h0M410.7 216.7h0M410.7 215.3h0M410.7 213.9h0M410.7 213.4h0M417.8 216.7h0M417.8 215.3h0M417.8 213.9h0M417.8 212.6h0M417.8 212.3h0M419.2 216.7h0M419.2 215.3h0M419.2 213.9h0M419.2 212.6h0M419.2 211.2h0M419.2 210.4h0M412.4 216.7h0M412.4 215.3h0M412.4 213.9h0M412.4 212.6h0M412.4 211.2h0M412.4 209.8h0M412.4 208.8h0M412.7 216.7h0M412.7 215.3h0M412.7 213.9h0M412.7 212.6h0M412.7 211.2h0M412.7 210.5h0" stroke="#494949" stroke-width="3.25" stroke-linecap="round" fill="none"/>
<path d="M407.5 191.4h0M418 204.5h0M407.4 198.8h0M407.6 200.8h0M407.6 202.5h0M407.5 204.5h0M407.5 206.6h0" stroke="#404040" stroke-width="3.25" stroke-linecap="round" fill="none"/>
<path d="M429.7 213.8h0M422.1 216.5h0M426.6 216.5h0M424.2 213.3h0M421.6 216.7h0M421.7 215.8h0M422.1 214.6h0M428.7 215.4h0M429.9 215.6h0M430.7 213.1h0M422.7 212.7h0M423.6 214.3h0M429.3 216.5h0M424.9 216.8h0M426.5 216.2h0M427.6 214.7h0M426.9 213.8h0M431.7 216.7h0M431.7 215.3h0M431.7 213.9h0M431.7 212.7h0M427.8 216.7h0M427.8 215.3h0M427.8 213.9h0M427.8 212.6h0M427.8 211.2h0M427.8 210.7h0M426.6 216.7h0M426.6 215.3h0M426.6 213.9h0M426.6 212.6h0M426.6 211.2h0M426.6 209.8h0M426.6 208.5h0M426.6 208.1h0M425.8 216.7h0M425.8 215.3h0M425.8 213.9h0M425.8 212.6h0M425.8 211.2h0M425.8 209.8h0M425.8 209.6h0" stroke="#414141" stroke-width="3.25" stroke-linecap="round" fill="none"/>
<path d="M429.5 188.9h0M426 202.2h0M429.5 197.5h0M429.4 199.6h0M429.6 201.4h0M429.6 202.8h0M429.5 204.5h0M429.5 206.6h0" stroke="#393939" stroke-width="3.25" stroke-linecap="round" fill="none"/>
<path d="M442.1 207.4h0M436 216.2h0M438.7 215.2h0M443 214.5h0M434.6 212.9h0M436.8 214.9h0M441.9 212.2h0M441.4 213.4h0M439 211.8h0M442.8 216.6h0M438.8 214h0M440.3 213.5h0M438.4 216.5h0M439.7 217h0M440 214.7h0M433.7 215.2h0M440.5 214.4h0M435.8 216.9h0M437.9 217h0M435.5 216h0M440.8 215.2h0M442.4 216.7h0M442.4 215.3h0M442.4 213.9h0M442.4 212.6h0M442.4 211.2h0M442.4 209.8h0M442.4 209.2h0M433.8 216.7h0M433.8 215.3h0M433.8 213.9h0M433.8 213.4h0M438.1 216.7h0M438.1 215.3h0M438.1 213.9h0M438.1 213.5h0" stroke="#575757" stroke-width="3.25" stroke-linecap="round" fill="none"/>
<path d="M438 191.4h0M440 191.8h0M437.4 195.5h0M437.6 197.3h0M437.6 199.6h0M437.6 201.6h0M437.4 203.8h0M437.6 205.4h0M437.5 206.8h0" stroke="#4d4d4d" stroke-width="3.25" stroke-linecap="round" fill="none"/>
<path d="M447 215.6h0M447.5 215.9h0M455.6 213.1h0M450.6 215.7h0M455.8 216.3h0M448.1 211.5h0M447.8 213.4h0M453.7 216.9h0M455 216.1h0M449.7 215.9h0M455.5 216.3h0M448.4 216.7h0M451.3 216.9h0M449.8 210.4h0M448.3 216.9h0M446.5 214.8h0M453.9 215.4h0M447 215.4h0M448.9 216.3h0M453.6 214h0M445.9 215.2h0M450.4 213.7h0M452.1 215.4h0M453.3 210.4h0M454.9 215.9h0M455.6 217h0M446.8 215.1h0M449.1 213.9h0M449.8 215h0M449.1 216.7h0M449.1 215.3h0M449.1 213.9h0M449.1 212.6h0M449.1 212.1h0M453.4 216.7h0M453.4 215.3h0M453.4 213.9h0M453.4 212.9h0M452.9 216.7h0M452.9 215.3h0M452.9 213.9h0M452.9 212.6h0M452.9 211.8h0" stroke="#6c6c6c" stroke-width="3.25" stroke-linecap="round" fill="none"/>
<path d="M452.3 200.5h0M445 188h0M444.8 190h0M444.9 191.4h0M444.9 193.3h0M444.8 195.2h0M445 197h0M444.8 198.6h0M445 200.2h0M444.9 202.4h0M444.9 204.1h0M445 206.3h0M445 208.5h0" stroke="#5f5f5f" stroke-width="3.25" stroke-linecap="round" fill="none"/>
<path d="M463.1 215.8h0M464 215.5h0M466.7 216h0M467.7 214.2h0M464.1 215h0M461.2 216.5h0M460.4 205.8h0M467.9 216.7h0M464.5 217h0M467.5 211.7h0M459.5 215.6h0M464.3 213.3h0M467.2 216h0M467.3 215.2h0M467.7 216.8h0M462.5 214.4h0M464.8 215.7h0M457.5 214.4h0M462 216h0M464.4 216.6h0M464.3 215h0M461.7 216.6h0M465.2 210.8h0M465.2 216.3h0M466.4 216.2h0M464.9 216.7h0M464.9 215.3h0M464.9 213.9h0M464.9 212.6h0M464.9 211.2h0M464.9 211.2h0M466.4 216.7h0M466.4 215.3h0M466.4 213.9h0M466.4 212.6h0M466.4 211.4h0M459 216.7h0M459 215.3h0M459 213.9h0M459 212.6h0M459 211.2h0M459 211.2h0" stroke="#838383" stroke-width="3.25" stroke-linecap="round" fill="none"/>
<path d="M460 186.9h0M460 194.8h0M460 204.5h0" stroke="#737373" stroke-width="3.25" stroke-linecap="round" fill="none"/>
<path d="M470.8 215.2h0M471.2 216.3h0M475 214.1h0M472.5 216.1h0M471.6 214h0M472.5 215.7h0M473.3 214h0M472.9 213.4h0M475.4 216h0M473.1 212.6h0M473 216.9h0M474.2 216.7h0M474.2 215.3h0M474.2 213.9h0M474.2 212.6h0M474.2 212.4h0M475 216.7h0M475 215.3h0M475 213.9h0M475 213h0" stroke="#7d7d7d" stroke-width="3.25" stroke-linecap="round" fill="none"/>
<path d="M483.7 214.6h0M480.9 215h0M483.3 215.2h0M486 216.5h0M482.5 216.4h0M483.4 212.5h0M486.5 216.4h0M480.2 215.4h0M484.1 215h0M484.2 217h0M485.2 215h0M484 216.9h0M479.7 215.1h0M480.7 214.7h0M481.4 214.2h0M482.4 216.3h0M487.2 216.7h0M487.2 215.3h0M487.2 213.9h0M487.2 212.9h0M480.9 216.7h0M480.9 215.3h0M480.9 213.9h0M480.9 212.6h0" stroke="#6e6e6e" stroke-width="3.25" stroke-linecap="round" fill="none"/>
<path d="M479 179.7h0M479 181.4h0M479 186.5h0M479 189.4h0M479 195.6h0M479 198.2h0M479 200.5h0M481.5 201.7h0" stroke="#616161" stroke-width="3.25" stroke-linecap="round" fill="none"/>
<path d="M489.8 214.5h0M489.8 216h0M492.6 214.6h0M492.6 217h0M492.8 216.2h0M492.2 212.4h0M491.1 216.7h0M491.1 215.3h0M491.1 213.9h0M491.1 213.3h0" stroke="#4f4f4f" stroke-width="3.25" stroke-linecap="round" fill="none"/>
<path d="M492 197.7h0" stroke="#454545" stroke-width="3.25" stroke-linecap="round" fill="none"/>
<path d="M497.9 216.8h0M496.6 215.4h0M498.1 214.5h0M498.1 215.2h0M497.5 215.7h0M496.5 215.4h0M497.6 216.4h0M496.3 215.7h0M497.4 214.5h0M496.6 215h0M498.6 216.2h0M498.1 215.9h0M497.6 216.7h0M497.6 215.3h0M497.6 213.9h0M497.6 212.6h0M497.6 211.2h0M497.6 210.5h0M497.2 216.7h0M497.2 215.3h0M497.2 213.9h0M497.2 212.6h0M497.2 211.2h0M497.2 211.2h0" stroke="#424242" stroke-width="3.25" stroke-linecap="round" fill="none"/>
<path d="M495 199.9h0M495.7 205.1h0" stroke="#3b3b3b" stroke-width="3.25" stroke-linecap="round" fill="none"/>
<line x1="52" y1="170.9" x2="519" y2="170.9" stroke="#8a8a8a" stroke-width="1.1" stroke-dasharray="1.2 1.2"/>
<rect x="51.5" y="1.5" width="467.0" height="262.2" fill="none" stroke="#565656" stroke-width="1.25"/>
<line x1="47.8" y1="253.9" x2="51.5" y2="253.9" stroke="#565656" stroke-width="1"/>
<line x1="47.8" y1="197.15" x2="51.5" y2="197.15" stroke="#565656" stroke-width="1"/>
<line x1="47.8" y1="140.6" x2="51.5" y2="140.6" stroke="#565656" stroke-width="1"/>
<line x1="47.8" y1="83.25" x2="51.5" y2="83.25" stroke="#565656" stroke-width="1"/>
<line x1="47.8" y1="26.35" x2="51.5" y2="26.35" stroke="#565656" stroke-width="1"/>
<line x1="85.5" y1="263.7" x2="85.5" y2="267.3" stroke="#565656" stroke-width="1"/>
<line x1="119.5" y1="263.7" x2="119.5" y2="267.3" stroke="#565656" stroke-width="1"/>
<line x1="153.5" y1="263.7" x2="153.5" y2="267.3" stroke="#565656" stroke-width="1"/>
<line x1="185.5" y1="263.7" x2="185.5" y2="267.3" stroke="#565656" stroke-width="1"/>
<line x1="214.5" y1="263.7" x2="214.5" y2="267.3" stroke="#565656" stroke-width="1"/>
<line x1="243.5" y1="263.7" x2="243.5" y2="267.3" stroke="#565656" stroke-width="1"/>
<line x1="270.5" y1="263.7" x2="270.5" y2="267.3" stroke="#565656" stroke-width="1"/>
<line x1="295.5" y1="263.7" x2="295.5" y2="267.3" stroke="#565656" stroke-width="1"/>
<line x1="317.5" y1="263.7" x2="317.5" y2="267.3" stroke="#565656" stroke-width="1"/>
<line x1="338.5" y1="263.7" x2="338.5" y2="267.3" stroke="#565656" stroke-width="1"/>
<line x1="359.5" y1="263.7" x2="359.5" y2="267.3" stroke="#565656" stroke-width="1"/>
<line x1="380.5" y1="263.7" x2="380.5" y2="267.3" stroke="#565656" stroke-width="1"/>
<line x1="398.5" y1="263.7" x2="398.5" y2="267.3" stroke="#565656" stroke-width="1"/>
<line x1="413.5" y1="263.7" x2="413.5" y2="267.3" stroke="#565656" stroke-width="1"/>
<line x1="427.5" y1="263.7" x2="427.5" y2="267.3" stroke="#565656" stroke-width="1"/>
<line x1="440.5" y1="263.7" x2="440.5" y2="267.3" stroke="#565656" stroke-width="1"/>
<line x1="452.5" y1="263.7" x2="452.5" y2="267.3" stroke="#565656" stroke-width="1"/>
<line x1="464.5" y1="263.7" x2="464.5" y2="267.3" stroke="#565656" stroke-width="1"/>
<line x1="475.5" y1="263.7" x2="475.5" y2="267.3" stroke="#565656" stroke-width="1"/>
<line x1="484.5" y1="263.7" x2="484.5" y2="267.3" stroke="#565656" stroke-width="1"/>
<line x1="492.5" y1="263.7" x2="492.5" y2="267.3" stroke="#565656" stroke-width="1"/>
<line x1="498.5" y1="263.7" x2="498.5" y2="267.3" stroke="#565656" stroke-width="1"/>
<path d="M67.7 538.5L101.2 538.5V575.9H68.7Q66.2 575.9 66.2 572.9V547.5Z" fill="#555555"/>
<rect x="100.2" y="538.5" width="36.8" height="37.4" fill="#6e6e6e"/>
<rect x="136" y="538.5" width="32.8" height="37.4" fill="#888888"/>
<rect x="167.8" y="538.5" width="32.4" height="37.4" fill="#909090"/>
<rect x="199.2" y="538.5" width="29.3" height="37.4" fill="#767676"/>
<rect x="227.5" y="538.5" width="30.9" height="37.4" fill="#5d5d5d"/>
<rect x="257.4" y="538.5" width="25" height="37.4" fill="#474747"/>
<rect x="281.4" y="538.5" width="25.6" height="37.4" fill="#505050"/>
<rect x="306" y="538.5" width="20.4" height="37.4" fill="#686868"/>
<rect x="325.4" y="538.5" width="22.5" height="37.4" fill="#818181"/>
<rect x="346.9" y="538.5" width="22.8" height="37.4" fill="#979797"/>
<rect x="368.7" y="538.5" width="22.5" height="37.4" fill="#7e7e7e"/>
<rect x="390.2" y="538.5" width="16.6" height="37.4" fill="#6b6b6b"/>
<rect x="405.8" y="538.5" width="15.5" height="37.4" fill="#4f4f4f"/>
<rect x="420.3" y="538.5" width="13.5" height="37.4" fill="#464646"/>
<rect x="432.8" y="538.5" width="13.1" height="37.4" fill="#5e5e5e"/>
<rect x="444.9" y="538.5" width="12.7" height="37.4" fill="#757575"/>
<rect x="456.6" y="538.5" width="13.2" height="37.4" fill="#8d8d8d"/>
<rect x="468.8" y="538.5" width="10" height="37.4" fill="#878787"/>
<rect x="477.8" y="538.5" width="11.3" height="37.4" fill="#777777"/>
<rect x="488.1" y="538.5" width="6.9" height="37.4" fill="#555555"/>
<path d="M494 538.5H500.7L502.7 549.5V572.9Q502.7 575.9 500.2 575.9H494Z" fill="#484848"/>
<path d="M68.9 527.6h0M87 536.1h0M89.6 536.4h0M97.5 538.7h0M76.3 535.1h0M77.9 538.7h0M72.6 538.2h0M69.2 536.3h0M70.9 529.6h0M80.8 536.2h0M84.9 538.5h0M81 538.1h0M99.1 539h0M83 539.1h0M92.7 538.2h0M87.2 535.7h0M73.5 539.4h0M69.5 534.5h0M78.9 539.1h0M97.1 538.1h0M80.1 538.9h0M87.9 532.7h0M78.9 537.6h0M73.7 538.4h0M79.5 537.9h0M89.9 538.3h0M80.9 537.4h0M84.4 534.4h0M84.6 538.8h0M68.9 535.5h0M89.6 538.4h0M83.9 535.9h0M87.6 539h0M78.6 534.3h0M97.6 539.1h0M96.3 538.5h0M70 536.3h0M85.1 537.4h0M69.5 535.4h0M69.7 530.6h0M83.2 538.4h0M69.7 539.4h0M93.4 539.6h0M89.7 536.1h0M80.9 536.5h0M85.6 538.2h0M76.4 537.5h0M84.7 539.5h0M79.3 538.5h0M79.8 533.5h0M89.4 539.2h0M82 538.4h0M73.1 535.8h0M82.3 539.4h0M73.8 537.7h0M70.4 538.2h0M85.1 536.4h0M81.6 539.1h0M75.4 538.4h0M72.8 536.8h0M96.4 539.4h0M97.9 536.5h0M69.5 538.3h0M78 538.1h0M76.3 538.9h0M96.2 539.1h0M68.5 537h0M93.5 539.2h0M93.5 537.9h0M93.5 536.6h0M93.5 535.3h0M93.5 534h0M93.5 532.7h0M93.5 531.4h0M93.5 530.1h0M93.5 528.8h0M93.5 528.3h0M83.1 539.2h0M83.1 537.9h0M83.1 536.6h0M83.1 535.3h0M83.1 535h0M77.9 539.2h0M77.9 537.9h0M77.9 536.6h0M77.9 535.3h0M77.9 534h0M77.9 532.7h0M77.9 531.4h0M77.9 530.1h0M77.9 528.8h0M77.9 527.5h0M77.9 526.1h0M77.9 526.1h0M71.9 539.2h0M71.9 537.9h0M71.9 536.6h0M71.9 535.3h0M71.9 534h0M71.9 532.7h0M71.9 532.4h0M75.3 539.2h0M75.3 537.9h0M75.3 536.6h0M75.3 535.3h0M75.3 534h0M75.3 532.7h0M75.3 531.8h0M72.9 539.2h0M72.9 537.9h0M72.9 536.6h0M72.9 535.3h0M72.9 534h0M72.9 532.7h0M72.9 531.4h0M72.9 530.1h0M72.9 529.7h0M96 539.2h0M96 537.9h0M96 536.6h0M96 535.3h0M96 534h0M96 532.7h0M96 531.4h0M96 530.7h0M92.1 539.2h0M92.1 537.9h0M92.1 536.6h0M92.1 535.3h0M92.1 534h0M92.1 532.7h0M92.1 532.2h0M72 539.2h0M72 537.9h0M72 536.6h0M72 535.3h0M72 534h0M72 532.7h0M72 532.7h0" stroke="#4f4f4f" stroke-width="3.25" stroke-linecap="round" fill="none"/>
<path d="M88.8 502.2h0M88.8 505h0M84.2 514.8h0M84.2 517.5h0M88.8 520.8h0M88.8 524.1h0M72 525.7h0M74.5 526.3h0M98.8 520.8h0M88.8 521h0M88.7 522.7h0M88.6 524.4h0M88.8 526.2h0M88.7 527.9h0M88.8 530.1h0M88.8 532.2h0" stroke="#454545" stroke-width="3.25" stroke-linecap="round" fill="none"/>
<path d="M114.4 536.7h0M133.8 536.1h0M125.6 539.5h0M124.1 539.4h0M109.5 538.8h0M121.5 537.8h0M127.2 533.5h0M126.3 534.6h0M126.4 538.9h0M135.2 538.7h0M118.9 538.7h0M124.4 535.9h0M115.3 538.8h0M113.8 536.9h0M125.9 535.2h0M123.6 538.9h0M125.7 538.9h0M102.2 539.5h0M103.9 539.1h0M134.2 538.9h0M134.1 539h0M130.6 532.9h0M122.4 536.4h0M123.4 538.6h0M111.4 537h0M115.3 532.5h0M106.3 537h0M120.4 538.6h0M118.1 539.4h0M122.8 534.2h0M127.5 539.3h0M132.2 533.8h0M102.6 532.6h0M119.2 538.5h0M131.5 534.5h0M105 539.4h0M114.5 537.8h0M117.5 538.5h0M115.1 538.1h0M129.5 538h0M131.6 537.3h0M117.4 536.8h0M122.7 538.5h0M109.9 537.5h0M130.7 537.9h0M126.7 537h0M123.1 539.6h0M131.6 532.7h0M132.1 537.1h0M108 536.3h0M120.6 530h0M109.4 539.5h0M117 537.9h0M126.5 537.7h0M106.3 538.5h0M127.4 534.5h0M122.9 537.7h0M132.1 538.6h0M106.3 537.8h0M132.8 537.4h0M126.7 538.3h0M131.3 536.9h0M134.6 536.9h0M106.7 537.7h0M117.5 539.5h0M112.1 538.4h0M107.9 538.5h0M127.6 538.4h0M124.8 528.2h0M109.8 539.3h0M116.4 534.9h0M116.1 539.2h0M127.5 534.7h0M123.2 539.2h0M123.2 537.9h0M123.2 536.6h0M123.2 535.3h0M123.2 534h0M123.2 532.7h0M123.2 531.4h0M123.2 530.1h0M123.2 528.8h0M123.2 527.5h0M123.2 526.1h0M123.2 525.2h0M109.4 539.2h0M109.4 537.9h0M109.4 536.6h0M109.4 535.3h0M109.4 534h0M109.4 532.7h0M109.4 531.4h0M109.4 530.1h0M109.4 528.8h0M109.4 527.8h0M106.4 539.2h0M106.4 537.9h0M106.4 536.6h0M106.4 535.3h0M106.4 534h0M106.4 533.4h0M121.5 539.2h0M121.5 537.9h0M121.5 536.6h0M121.5 535.3h0M121.5 534h0M121.5 532.7h0M121.5 531.5h0M106.1 539.2h0M106.1 537.9h0M106.1 536.6h0M106.1 535.3h0M106.1 534h0M106.1 532.7h0M106.1 531.4h0M106.1 530.1h0M106.1 529.7h0M129.4 539.2h0M129.4 537.9h0M129.4 536.6h0M129.4 535.3h0M129.4 534h0M129.4 532.7h0M129.4 531.4h0M129.4 530.1h0M129.4 529.4h0M120 539.2h0M120 537.9h0M120 536.6h0M120 535.3h0M120 534h0M120 533.4h0M124.2 539.2h0M124.2 537.9h0M124.2 536.6h0M124.2 535.3h0M124.2 534h0M124.2 532.7h0M124.2 531.4h0M124.2 530.1h0M124.2 529.6h0M119.2 539.2h0M119.2 537.9h0M119.2 536.6h0M119.2 535.3h0M119.2 534h0M119.2 533.1h0M117.9 539.2h0M117.9 537.9h0M117.9 536.6h0M117.9 535.3h0M117.9 534h0M117.9 532.7h0M117.9 531.4h0M117.9 530.1h0M117.9 529.5h0" stroke="#666666" stroke-width="3.25" stroke-linecap="round" fill="none"/>
<path d="M102.5 519.2h0M121.2 519.7h0M134.5 523.5h0" stroke="#5a5a5a" stroke-width="3.25" stroke-linecap="round" fill="none"/>
<path d="M140.2 538.6h0M161.8 533.4h0M147.1 538.3h0M152.5 539h0M148 536h0M150.4 536.4h0M141.3 539.2h0M160.4 537.3h0M160.7 536.3h0M143.6 539.3h0M153.7 535.8h0M155.7 538.2h0M143.8 538.3h0M153.2 538.6h0M156.8 539.6h0M162.4 535.7h0M143.7 537.4h0M164.2 538.3h0M159.6 537.6h0M161.3 538.7h0M163.7 531.1h0M159 537.3h0M147.5 538.2h0M164.3 537.5h0M152.6 539.3h0M148.6 537.2h0M166.8 539h0M162.9 537.1h0M149.4 536.2h0M163.1 539.1h0M157.3 537.6h0M157.8 537.6h0M158.3 530.3h0M148.5 533.1h0M145.1 534.5h0M164.8 537.3h0M146.4 539.4h0M153 539.4h0M161 538h0M136.8 536.2h0M151.3 531.2h0M138.3 539.4h0M155.1 539.5h0M138.8 535h0M161.1 536.1h0M139.4 537h0M150 534.5h0M161.4 538.4h0M162.1 537.6h0M162.2 538.2h0M161.5 537.4h0M155.7 539.3h0M165.5 539h0M163.8 536.7h0M146.7 536.3h0M149.3 539.2h0M156.4 534.3h0M136.9 537h0M146.3 539.5h0M162.6 534.5h0M166.7 532h0M149.9 539.2h0M149.9 537.9h0M149.9 536.6h0M149.9 535.3h0M149.9 534h0M149.9 532.7h0M149.9 531.4h0M149.9 530.1h0M149.9 528.8h0M149.9 527.5h0M149.9 527.3h0M161.5 539.2h0M161.5 537.9h0M161.5 536.6h0M161.5 535.3h0M161.5 534h0M161.5 532.7h0M161.5 531.4h0M161.5 530.5h0M150.5 539.2h0M150.5 537.9h0M150.5 536.6h0M150.5 535.3h0M150.5 534h0M150.5 533.7h0M164.1 539.2h0M164.1 537.9h0M164.1 536.6h0M164.1 535.3h0M164.1 534h0M164.1 532.7h0M164.1 531.4h0M164.1 530.1h0M164.1 528.8h0M164.1 528.2h0M145.5 539.2h0M145.5 537.9h0M145.5 536.6h0M145.5 535.3h0M145.5 534h0M145.5 532.7h0M145.5 531.4h0M145.5 531h0M143.3 539.2h0M143.3 537.9h0M143.3 536.6h0M143.3 535.3h0M143.3 534.2h0M151.6 539.2h0M151.6 537.9h0M151.6 536.6h0M151.6 535.3h0M151.6 534h0M151.6 533.8h0M140.2 539.2h0M140.2 537.9h0M140.2 536.6h0M140.2 535.3h0M140.2 534h0M140.2 533.7h0" stroke="#7e7e7e" stroke-width="3.25" stroke-linecap="round" fill="none"/>
<path d="M147.5 519.2h0M147.5 523h0M163.8 524.1h0" stroke="#6f6f6f" stroke-width="3.25" stroke-linecap="round" fill="none"/>
<path d="M188 537.1h0M185.1 535.2h0M179.3 539.1h0M168.8 538.8h0M185.3 538.8h0M169.6 539.5h0M189.9 536.5h0M188.9 539.5h0M189.3 539.5h0M184.9 537.7h0M172.3 537.2h0M173.5 531.2h0M188 538h0M187.1 538.3h0M182.2 539.4h0M195.6 538.3h0M179.9 537.1h0M174.2 538.2h0M173.6 539.5h0M172.8 538.9h0M196 537.3h0M193.7 538h0M193.4 538.9h0M181 538.9h0M171.5 537.4h0M195.3 534.1h0M185.7 536.4h0M173.5 538.4h0M175.3 539.2h0M171 537.2h0M169 537.6h0M176.5 529.3h0M186.7 535.3h0M195.3 537.1h0M188.2 539.3h0M170.3 536.2h0M185.3 536.6h0M191 536.8h0M193 539h0M194.4 539.5h0M197.6 536.5h0M196.8 539.5h0M182.4 535.8h0M190.8 538.1h0M183.2 537.3h0M195.7 539.1h0M191.8 537.1h0M185.2 538h0M181.7 537.9h0M169.6 535.6h0M180.7 538.1h0M177.7 538.9h0M178.5 533.3h0M169.8 532.7h0M188.4 539.4h0M193.1 537.5h0M175.5 537.7h0M190.9 533.8h0M179.9 539.5h0M188.9 539h0M193.5 535.4h0M172 534.7h0M170.4 537.6h0M172.2 538.6h0M193.2 538.4h0M189.5 536.6h0M184.5 539.2h0M184.5 537.9h0M184.5 536.6h0M184.5 535.3h0M184.5 534h0M184.5 532.7h0M184.5 531.4h0M184.5 530.1h0M184.5 528.8h0M184.5 528h0M172.7 539.2h0M172.7 537.9h0M172.7 536.6h0M172.7 535.3h0M172.7 534h0M172.7 532.9h0M191.8 539.2h0M191.8 537.9h0M191.8 536.6h0M191.8 535.3h0M191.8 534h0M191.8 532.7h0M191.8 531.4h0M191.8 530.1h0M191.8 528.8h0M191.8 528.6h0M191.6 539.2h0M191.6 537.9h0M191.6 536.6h0M191.6 535.3h0M191.6 534h0M191.6 532.7h0M191.6 531.4h0M191.6 530.1h0M191.6 528.8h0M191.6 527.5h0M191.6 527.4h0M189.1 539.2h0M189.1 537.9h0M189.1 536.6h0M189.1 535.3h0M189.1 534h0M189.1 532.7h0M189.1 532.4h0M174.8 539.2h0M174.8 537.9h0M174.8 536.6h0M174.8 535.3h0M174.8 534h0M174.8 532.7h0M180.2 539.2h0M180.2 537.9h0M180.2 536.6h0M180.2 535.3h0M180.2 534h0M180.2 532.7h0M180.2 531.4h0M180.2 530.1h0M180.2 528.8h0M180.2 528.6h0M175 539.2h0M175 537.9h0M175 536.6h0M175 535.3h0M175 534h0M175 532.7h0M175 531.4h0M175 530.1h0M175 528.8h0M175 527.5h0" stroke="#858585" stroke-width="3.25" stroke-linecap="round" fill="none"/>
<path d="M181.8 522.4h0M172.5 523.5h0" stroke="#767676" stroke-width="3.25" stroke-linecap="round" fill="none"/>
<path d="M200.9 537.4h0M219.4 534.7h0M219.4 538.3h0M204.1 536.4h0M206.1 539.5h0M221.1 539.5h0M200.1 539h0M207.7 538.8h0M215.7 538.8h0M225.2 539.2h0M211.4 526.3h0M213.1 534h0M214.4 538.5h0M214.8 537.3h0M223.8 538.4h0M203.5 537.2h0M206.2 539.4h0M208.6 537.8h0M210.3 537.6h0M215.1 539.5h0M207 539.4h0M222 538.7h0M220.8 539.1h0M201.2 538.3h0M214.5 539.1h0M204.8 538.1h0M215.1 539.4h0M225 537.6h0M204.3 537.7h0M220.6 538.3h0M204 539.3h0M224.3 538.5h0M214.8 532.3h0M213.2 539.3h0M213 539h0M212.1 538.8h0M203.2 536.4h0M220.1 537.7h0M207.7 539.2h0M214.6 536.9h0M202.2 539.5h0M220.4 538.5h0M219.8 538.9h0M222.7 537.1h0M204.5 539.1h0M206.3 536.8h0M204.5 536.9h0M201.2 529.8h0M209.5 531.6h0M201.8 538.5h0M213.9 537.7h0M206 536.5h0M222 536.5h0M223.7 539.1h0M224.7 530.3h0M225.7 537.1h0M224.8 537.3h0M214.7 539.2h0M214.7 537.9h0M214.7 536.6h0M214.7 535.3h0M214.7 534h0M214.7 532.8h0M211.5 539.2h0M211.5 537.9h0M211.5 536.6h0M211.5 535.3h0M211.5 534h0M211.5 532.7h0M211.5 531.4h0M211.5 530.1h0M211.5 529.1h0M203 539.2h0M203 537.9h0M203 536.6h0M203 535.3h0M203 534h0M203 532.7h0M203 531.4h0M203 530.1h0M203 528.8h0M203 527.5h0M203 527.1h0M215.5 539.2h0M215.5 537.9h0M215.5 536.6h0M215.5 535.3h0M215.5 534h0M215.5 532.7h0M215.5 531.4h0M215.5 530.1h0M215.5 528.8h0M215.5 527.5h0M215.5 527.1h0M211.8 539.2h0M211.8 537.9h0M211.8 536.6h0M211.8 535.3h0M211.8 534h0M211.8 532.7h0M211.8 531.4h0M211.8 530.1h0M211.8 528.8h0M211.8 528h0M214.3 539.2h0M214.3 537.9h0M214.3 536.6h0M214.3 535.3h0M214.3 534h0M214.3 533.5h0M208 539.2h0M208 537.9h0M208 536.6h0M208 535.3h0M208 534h0M208 532.7h0M208 531.4h0M208 530.1h0M208 528.8h0M208 527.8h0" stroke="#6d6d6d" stroke-width="3.25" stroke-linecap="round" fill="none"/>
<path d="M205.5 512.1h0M201.2 518.6h0M218 518.6h0M222 524.6h0M207 525h0M206.9 526.7h0M206.9 528.6h0M207 530.6h0M206.9 532.3h0" stroke="#606060" stroke-width="3.25" stroke-linecap="round" fill="none"/>
<path d="M252.7 536.6h0M238.9 536.8h0M236.3 539.3h0M237.3 533.6h0M239.2 536h0M247.1 538.2h0M229.9 535.1h0M234.1 539.3h0M252.7 539.2h0M234.9 538.1h0M235.7 535.1h0M254.4 536.8h0M246.3 538.9h0M245.4 539.5h0M248.5 532.9h0M236.1 537.5h0M251.6 536.7h0M244.6 539h0M249.6 536.8h0M249.3 534.8h0M238.7 539.1h0M229.9 533h0M242.6 537.5h0M238.3 536.5h0M231.2 535.1h0M252.6 535.2h0M255.6 537.1h0M252 539.2h0M240.6 538.6h0M240.1 537.2h0M250.8 538.8h0M245.6 534.5h0M230.5 538.9h0M242.6 538.9h0M255.3 534.4h0M250.7 538.6h0M237.3 538.7h0M254 537.3h0M252.2 539.4h0M241.3 539.4h0M236.5 537.4h0M253.6 536h0M244.6 537.6h0M245.6 539.5h0M254.8 537.3h0M236.5 534.2h0M235.8 538.7h0M244.3 537.1h0M228.6 535.9h0M243 537.8h0M240.3 538.8h0M241.1 535.5h0M245.1 536.5h0M232.3 539.1h0M251.1 539.2h0M251.1 537.9h0M251.1 536.6h0M251.1 535.3h0M251.1 534h0M251.1 532.7h0M251.1 531.4h0M251.1 530.1h0M245.1 539.2h0M245.1 537.9h0M245.1 536.6h0M245.1 535.3h0M245.1 534h0M245.1 532.7h0M245.1 531.4h0M245.1 530.1h0M245.1 528.8h0M245.1 528.1h0M236.5 539.2h0M236.5 537.9h0M236.5 536.6h0M236.5 535.3h0M236.5 534h0M236.5 532.7h0M236.5 531.4h0M236.5 530.1h0M236.5 528.8h0M236.5 527.5h0M236.5 526.1h0M236.5 524.8h0M236.5 524.5h0M252.8 539.2h0M252.8 537.9h0M252.8 536.6h0M252.8 535.3h0M252.8 534h0M252.8 532.7h0M252.8 532.4h0M233 539.2h0M233 537.9h0M233 536.6h0M233 535.3h0M233 534.3h0M242.1 539.2h0M242.1 537.9h0M242.1 536.6h0M242.1 535.3h0M242.1 534h0M242.1 532.7h0M242.1 531.4h0M242.1 530.1h0M242.1 529.8h0M234.5 539.2h0M234.5 537.9h0M234.5 536.6h0M234.5 535.3h0M234.5 534h0M234.5 532.7h0M234.5 531.4h0M234.5 530.1h0M234.5 528.8h0M234.5 527.5h0M234.5 526.9h0M236.1 539.2h0M236.1 537.9h0M236.1 536.6h0M236.1 535.3h0M236.1 534h0M236.1 532.7h0M236.1 531.4h0M236.1 530.1h0M236.1 528.8h0M236.1 527.5h0M236.1 527.2h0" stroke="#565656" stroke-width="3.25" stroke-linecap="round" fill="none"/>
<path d="M232 517.5h0M232 520.8h0M236.2 525.2h0M246.2 524.6h0" stroke="#4c4c4c" stroke-width="3.25" stroke-linecap="round" fill="none"/>
<path d="M269.1 534.7h0M263.3 537.6h0M271.7 536.8h0M277.3 536.2h0M262.9 534.3h0M263.5 539.2h0M266.8 537.2h0M260.3 536.7h0M261.9 539.5h0M262.4 539.2h0M268 534.9h0M263.3 535.6h0M266.5 539h0M277.4 535.7h0M274.4 539.4h0M272.9 533.6h0M262 539.6h0M265.8 535.9h0M258.3 539.3h0M265.6 537.3h0M273 530.6h0M262.4 538.6h0M269.7 538.5h0M264.6 538.5h0M265.6 534.1h0M264.9 539.3h0M259.1 537.9h0M279.8 539.1h0M276.4 536.6h0M280 537.9h0M269.5 536.5h0M269.4 537.8h0M271.4 539.2h0M266.9 539.1h0M259.3 538.1h0M263.1 532h0M268.8 536.7h0M259 537.5h0M273.7 533.7h0M272.9 529.8h0M278.5 538.2h0M272 539.1h0M261.7 534.4h0M268.2 539.4h0M265.4 537.6h0M273.6 539.1h0M268.9 537.8h0M262.8 539.1h0M264.9 536.7h0M265.9 539.2h0M265.9 537.9h0M265.9 536.6h0M265.9 535.3h0M265.9 534.9h0M277.4 539.2h0M277.4 537.9h0M277.4 536.6h0M277.4 535.3h0M277.4 534h0M277.4 532.7h0M277.4 531.4h0M277.4 530.1h0M277.4 528.8h0M277.4 527.5h0M277.4 527.4h0M267.8 539.2h0M267.8 537.9h0M267.8 536.6h0M267.8 535.3h0M267.8 534h0M267.8 532.7h0M267.8 532h0M268.4 539.2h0M268.4 537.9h0M268.4 536.6h0M268.4 535.3h0M268.4 534h0M268.4 532.7h0M268.4 531.4h0M268.4 530.1h0M268.4 528.8h0M268.4 527.5h0M268.4 526.1h0M268.4 525.1h0M274.1 539.2h0M274.1 537.9h0M274.1 536.6h0M274.1 535.3h0M274.1 534h0M274.1 532.7h0M274.1 531.4h0M274.1 530.1h0M274.1 528.8h0M274.1 528.3h0M268.6 539.2h0M268.6 537.9h0M268.6 536.6h0M268.6 535.3h0M268.6 534h0M268.6 532.7h0M268.6 532.5h0" stroke="#424242" stroke-width="3.25" stroke-linecap="round" fill="none"/>
<path d="M260 512.1h0M262.5 523h0M269.5 520.8h0M276.2 529.5h0M269.5 521.2h0M269.4 522.7h0M269.6 524.8h0M269.5 526.5h0M269.4 528.3h0M269.5 530.6h0M269.6 532.2h0M269.5 533.8h0M262.5 523h0M262.4 524.7h0M262.6 527h0M262.6 528.4h0M262.5 530.3h0M262.6 532.2h0M262.4 533.6h0" stroke="#3a3a3a" stroke-width="3.25" stroke-linecap="round" fill="none"/>
<path d="M303.1 539.2h0M300.9 536.4h0M298.3 537h0M283 539.4h0M288.7 537.3h0M296.1 539.5h0M289.1 537.8h0M283.2 535.4h0M303.7 538.8h0M283.1 538.9h0M292.3 537.7h0M301.2 539.5h0M285.9 534.5h0M303 536.7h0M296.6 528.3h0M302.5 538.2h0M300.4 539.4h0M296.5 539.5h0M289.1 539.6h0M296 538.1h0M304.7 538.4h0M299.1 536.8h0M282.5 529.3h0M296.9 536.7h0M299.1 539.1h0M295.6 538.6h0M293.1 539.1h0M297.7 537.8h0M299.1 536.1h0M289.3 538.4h0M293.3 538h0M297.2 538.2h0M300.3 538.2h0M303.1 535.7h0M289.5 539.2h0M303.5 535.9h0M294.7 539h0M294.8 538.6h0M291.1 539.4h0M301 536.1h0M284.1 535.9h0M283.4 538.5h0M291.1 538.5h0M290 537.5h0M302.7 539.1h0M297.6 538.3h0M304.3 537.4h0M289.2 537.5h0M300.5 539.2h0M300.5 537.9h0M300.5 536.6h0M300.5 535.3h0M300.5 534h0M300.5 532.7h0M300.5 531.4h0M300.5 530.8h0M286 539.2h0M286 537.9h0M286 536.6h0M286 535.3h0M286 534h0M286 532.7h0M286 531.4h0M286 530.1h0M286 528.8h0M286 527.5h0M286 526.1h0M286 525.8h0M290.5 539.2h0M290.5 537.9h0M290.5 536.6h0M290.5 535.3h0M290.5 534h0M290.5 532.7h0M290.5 531.4h0M290.5 530.1h0M290.5 528.8h0M290.5 527.5h0M290.5 527h0M300 539.2h0M300 537.9h0M300 536.6h0M300 535.3h0M300 534h0M300 532.7h0M300 531.4h0M300 530.1h0M300 529.6h0M302 539.2h0M302 537.9h0M302 536.6h0M302 535.3h0M302 534h0M302 532.7h0M302 531.4h0M302 530.1h0M302 528.8h0M302 527.5h0M302 527.2h0M303.8 539.2h0M303.8 537.9h0M303.8 536.6h0M303.8 535.3h0M303.8 534h0M303.8 532.7h0M303.8 531.4h0M303.8 530.1h0M303.8 528.8h0M303.8 527.5h0M303.8 526.1h0M303.8 524.8h0M303.8 524.5h0" stroke="#4a4a4a" stroke-width="3.25" stroke-linecap="round" fill="none"/>
<path d="M285.5 529.5h0M296.2 526.3h0M300 527.3h0M305 522.4h0" stroke="#414141" stroke-width="3.25" stroke-linecap="round" fill="none"/>
<path d="M321.4 539.1h0M309.3 536.1h0M315.1 538.5h0M312 537.5h0M316.6 537.9h0M317.7 539.2h0M314.5 535.3h0M315.5 532.5h0M323.7 535.2h0M322 537.4h0M319.7 537.9h0M322.9 538.2h0M315.3 538.3h0M311.1 536.3h0M308.8 539.4h0M312.5 539.1h0M321.5 538.2h0M315 538.6h0M311.1 537.1h0M316.5 538.7h0M315 539.2h0M316.4 536.3h0M312.5 538.7h0M318.4 536.8h0M307.2 534.2h0M317.1 538.6h0M314.8 537h0M309 536.3h0M308.2 539.6h0M313.8 533.5h0M314.3 538.6h0M316.5 539h0M313.3 538.1h0M317.2 535.9h0M313.3 538.5h0M315.6 537.8h0M320.2 538.9h0M324.4 539.4h0M318.2 539.6h0M309.9 538.3h0M320 537.6h0M308.6 536.5h0M322.3 536h0M316.6 539.2h0M316.6 537.9h0M316.6 536.6h0M316.6 535.3h0M316.6 534h0M316.6 532.7h0M316.6 531.4h0M316.6 530.1h0M316.6 529.5h0M318.3 539.2h0M318.3 537.9h0M318.3 536.6h0M318.3 535.3h0M318.3 534h0M318.3 532.7h0M318.3 531.8h0M318.3 539.2h0M318.3 537.9h0M318.3 536.6h0M318.3 535.3h0M318.3 534h0M318.3 532.7h0M318.3 531.4h0M318.3 530.1h0M318.3 528.8h0M318.3 528.4h0M314.1 539.2h0M314.1 537.9h0M314.1 536.6h0M314.1 535.3h0M314.1 534h0M314.1 532.7h0M314.1 531.4h0M314.1 531.1h0M307.5 539.2h0M307.5 537.9h0M307.5 536.6h0M307.5 535.3h0M307.5 534h0M307.5 532.7h0M307.5 531.4h0M307.5 530.4h0" stroke="#606060" stroke-width="3.25" stroke-linecap="round" fill="none"/>
<path d="M310.5 514.8h0M312.5 517.5h0M312.5 520.8h0M314.2 524.6h0M311 515.9h0" stroke="#555555" stroke-width="3.25" stroke-linecap="round" fill="none"/>
<path d="M327.9 536.5h0M332.8 535h0M342.2 539h0M330.5 537h0M333.3 538.4h0M330 538.3h0M335.1 539.1h0M330.9 539.3h0M333.5 538.3h0M326.2 534.5h0M334.3 539.5h0M344.4 538h0M326.4 539.1h0M327.7 539.3h0M342.8 534.3h0M341.7 533.5h0M329.2 539h0M329.9 529.1h0M341.1 538.5h0M336.8 534.3h0M344.4 537.6h0M330 537.4h0M327.8 535.6h0M339.4 535.5h0M337.6 537.6h0M338.9 538.5h0M335 538.9h0M328 538.2h0M328.8 538.8h0M340.2 539.2h0M336.2 535h0M343.5 539.1h0M330 532.4h0M330.5 534.3h0M334.6 539.5h0M337 536.6h0M340.8 534.7h0M332.5 534.6h0M331 538.6h0M338.6 539.5h0M343.3 538.3h0M341.1 538.6h0M334.7 538.3h0M330.9 537h0M329.8 538.8h0M342 539.3h0M332.7 539.2h0M332.7 537.9h0M332.7 536.6h0M332.7 535.3h0M332.7 534h0M332.7 532.7h0M332.7 531.4h0M332.7 530.1h0M332.7 528.8h0M332.7 527.5h0M332.7 527.4h0M331 539.2h0M331 537.9h0M331 536.6h0M331 535.3h0M331 534h0M331 532.7h0M331 531.4h0M331 530.1h0M331 528.8h0M331 527.5h0M331 527.1h0M331.4 539.2h0M331.4 537.9h0M331.4 536.6h0M331.4 535.3h0M331.4 534h0M331.4 532.7h0M331.4 531.4h0M331.4 530.1h0M331.4 529.4h0M341 539.2h0M341 537.9h0M341 536.6h0M341 535.3h0M341 534h0M341 532.7h0M341 531.7h0M340.4 539.2h0M340.4 537.9h0M340.4 536.6h0M340.4 535.3h0M340.4 534.4h0" stroke="#777777" stroke-width="3.25" stroke-linecap="round" fill="none"/>
<path d="M345.8 515.9h0M345.8 520.2h0M330.8 526.8h0M337 529h0M325.6 508.8h0M325.4 510.2h0M325.5 511.7h0M325.4 513.2h0M325.6 514.6h0M325.5 518.8h0M325.5 521h0M325.4 523h0M325.5 525.1h0M325.4 527.1h0M325.6 528.9h0M325.6 530.6h0M325.6 532.6h0" stroke="#696969" stroke-width="3.25" stroke-linecap="round" fill="none"/>
<path d="M366.1 537.5h0M362.1 539.6h0M365.6 539h0M359.4 538.5h0M355.5 537.8h0M351 537.2h0M354.2 539h0M356.6 535.5h0M353 539.2h0M364.6 538.9h0M364.1 539.1h0M360.2 538.2h0M363.2 537.1h0M362.8 538.8h0M361.4 535.6h0M363.8 535.2h0M358.3 539.4h0M351.1 537.4h0M351.9 536.3h0M353.3 535.5h0M366.7 537.6h0M367.3 539.4h0M350.8 538.8h0M357.6 539.1h0M357.3 539.1h0M353.6 539.5h0M347.8 539.4h0M352 539.4h0M358.6 539.2h0M364.1 534.5h0M359.5 539.1h0M355 534.5h0M348.1 534.7h0M353.4 536.7h0M364.6 537.5h0M353.4 535.9h0M349.8 539.4h0M352.3 537.3h0M358.2 538.4h0M360.3 535.8h0M355.3 539.1h0M351.1 538.9h0M366.8 538.1h0M348.2 539h0M352.3 539.4h0M348.9 538.8h0M364.3 538.3h0M352.4 539.4h0M367.6 532.3h0M361.7 539.2h0M361.7 537.9h0M361.7 536.6h0M361.7 535.3h0M361.7 534h0M361.7 533.1h0M365.9 539.2h0M365.9 537.9h0M365.9 536.6h0M365.9 535.3h0M365.9 534h0M365.9 534h0M366.1 539.2h0M366.1 537.9h0M366.1 536.6h0M366.1 535.3h0M366.1 534h0M366.1 533.9h0M352.3 539.2h0M352.3 537.9h0M352.3 536.6h0M352.3 535.3h0M352.3 534h0M352.3 532.7h0M352.3 532.2h0M352.3 539.2h0M352.3 537.9h0M352.3 536.6h0M352.3 535.3h0M352.3 534h0M352.3 532.7h0M352.3 531.4h0M352.3 530.1h0M352.3 528.8h0M352.3 527.5h0M352.3 527.4h0" stroke="#8c8c8c" stroke-width="3.25" stroke-linecap="round" fill="none"/>
<path d="M352 524.6h0M364.5 523.5h0M356.5 462h0M356.5 464.6h0M356.5 467.6h0M356.5 470.6h0M356.5 474.6h0M356.5 477.9h0M356.4 508.8h0M356.5 510.9h0M356.4 512.9h0M356.5 514.4h0M356.4 516.4h0M356.4 518.7h0M356.4 520.5h0M356.4 522h0M356.6 523.6h0M356.4 525h0M356.5 526.6h0M356.4 528.2h0M356.5 530.1h0M356.4 531.9h0M356.4 533.8h0M359.1 515h0M359.4 516.9h0M359.3 519.2h0M359.3 520.9h0M359.4 523h0M359.2 525.3h0M359.2 527.4h0M359.3 529.4h0M359.2 531h0M359.2 532.9h0" stroke="#7b7b7b" stroke-width="3.25" stroke-linecap="round" fill="none"/>
<path d="M369.6 537.8h0M384.9 536.8h0M376.6 537.4h0M381.5 538.1h0M371.2 538.3h0M370.8 535.3h0M373.7 538.1h0M382.4 538.4h0M373.7 538h0M384.7 539.1h0M383.9 538.3h0M380.5 537.3h0M381.2 535.2h0M376.8 538.6h0M372.9 536.6h0M372.8 537.4h0M377 538.5h0M383.2 530.6h0M377.4 532.7h0M380.2 539.3h0M371.8 534.8h0M373.7 527.4h0M378.8 538.3h0M370.6 539.1h0M381.7 539.2h0M389.4 538.6h0M371.9 536.4h0M374.8 531.6h0M385.7 536.3h0M384.9 538.3h0M388.7 536.5h0M369.8 536.9h0M369.6 537.7h0M389 539.1h0M388.3 531h0M373.6 534.6h0M376.3 539.4h0M373.9 537.8h0M377.6 539.2h0M377.6 537.9h0M377.6 536.6h0M377.6 535.3h0M377.6 534h0M377.6 533.1h0M371.5 539.2h0M371.5 537.9h0M371.5 536.6h0M371.5 535.3h0M371.5 534h0M371.5 532.7h0M371.5 531.8h0M371.7 539.2h0M371.7 537.9h0M371.7 536.6h0M371.7 535.3h0M371.7 534h0M371.7 532.7h0M371.7 531.9h0M387.2 539.2h0M387.2 537.9h0M387.2 536.6h0M387.2 535.3h0M387.2 534h0M387.2 533.3h0M372.3 539.2h0M372.3 537.9h0M372.3 536.6h0M372.3 535.3h0M372.3 534h0M372.3 532.7h0M372.3 531.7h0" stroke="#757575" stroke-width="3.25" stroke-linecap="round" fill="none"/>
<path d="M386.2 507.1h0M389.5 522.4h0M372.4 514.5h0M372.6 515.9h0M372.4 518h0M372.5 520.2h0M372.5 521.8h0M372.4 523.8h0M372.5 525.6h0M372.6 527.8h0M372.6 529.6h0M372.4 531.7h0M372.4 533.6h0M374.6 517h0M374.4 518.5h0M374.4 520.4h0M374.5 522h0M374.5 523.7h0M374.6 525.9h0M374.4 527.9h0M374.4 529.6h0M374.6 531.7h0M374.6 533.3h0M369.9 521h0M370.1 522.9h0M370.1 524.5h0M369.9 526.5h0M370 528.4h0M369.9 529.9h0M369.9 532h0" stroke="#676767" stroke-width="3.25" stroke-linecap="round" fill="none"/>
<path d="M401.6 538.4h0M401.8 539.1h0M401.9 537.3h0M403.8 539.2h0M393.5 538.9h0M398.3 539.2h0M398.7 532.5h0M401.6 538.4h0M395 539.5h0M398.3 538.5h0M393.1 539.1h0M402.6 536.8h0M391.7 539.4h0M396.4 538.8h0M396.1 539.5h0M393.3 538.4h0M402.3 536.3h0M399.3 537.9h0M394.9 539h0M397.3 536.1h0M397.9 538h0M393 539.1h0M392.1 537.3h0M391.3 536.6h0M393.8 539.4h0M400.3 530.7h0M400.7 533.1h0M401.5 538.6h0M403.6 534.6h0M393.5 537.8h0M404.6 536.9h0M395.3 539.2h0M395.3 537.9h0M395.3 536.6h0M395.3 535.3h0M395.3 534h0M395.3 532.9h0M404.5 539.2h0M404.5 537.9h0M404.5 536.6h0M404.5 535.3h0M404.5 534h0M404.5 532.7h0M404.5 531.4h0M404.5 531h0M398.7 539.2h0M398.7 537.9h0M398.7 536.6h0M398.7 535.3h0M398.7 534h0M398.7 532.7h0M398.7 531.4h0M398.7 530.4h0" stroke="#636363" stroke-width="3.25" stroke-linecap="round" fill="none"/>
<path d="M394.5 506h0M394.4 510.8h0M394.4 512.3h0M394.6 513.9h0M394.4 516.1h0M394.5 517.5h0M394.4 519.4h0M394.4 521h0M394.6 523h0M394.5 524.8h0M394.5 527h0M394.5 529.3h0M394.4 531.2h0M394.6 532.9h0M398.1 521.2h0M398 522.7h0M398 524.3h0M398 526.2h0M398.1 528.4h0M397.9 530h0M398 532.2h0" stroke="#575757" stroke-width="3.25" stroke-linecap="round" fill="none"/>
<path d="M408.9 538.9h0M408.3 536.2h0M407.4 534.4h0M417.9 537.3h0M415 537.1h0M418.3 537.9h0M413.3 537.9h0M416.1 539.4h0M417.1 538.1h0M412.1 538.2h0M407.8 538.4h0M407.5 536.8h0M408.9 537.3h0M409.4 539.3h0M410.3 538.5h0M412.7 539h0M408.4 538.5h0M418.8 537h0M414.5 538.8h0M416.5 533.7h0M414.5 539.5h0M415.3 539.2h0M413.3 539.1h0M410.4 538.9h0M407.5 534.5h0M407 535.6h0M411.6 537.8h0M414.3 538.1h0M416.3 539.4h0M416.4 539.2h0M416.4 537.9h0M416.4 536.6h0M416.4 535.3h0M416.4 534h0M416.4 532.7h0M416.4 531.4h0M416.4 531.2h0M416.4 539.2h0M416.4 537.9h0M416.4 536.6h0M416.4 535.3h0M416.4 534h0M416.4 533.4h0M419.3 539.2h0M419.3 537.9h0M419.3 536.6h0M419.3 535.3h0M419.3 534h0M419.3 533h0" stroke="#494949" stroke-width="3.25" stroke-linecap="round" fill="none"/>
<path d="M407.5 525.2h0M415 522.4h0M415.3 523h0" stroke="#404040" stroke-width="3.25" stroke-linecap="round" fill="none"/>
<path d="M430.1 538.3h0M427.1 538.5h0M431.9 539.3h0M428.6 539.1h0M426.1 539.1h0M422.4 539.5h0M430.8 536.7h0M430.6 539.4h0M425.3 538.4h0M422.5 539.4h0M425.3 539.3h0M421.5 536.3h0M427.7 539.1h0M427.7 539.4h0M431 538.5h0M426.3 537.6h0M430.8 536.4h0M423.9 538.5h0M422.3 539.6h0M430.4 534h0M427.7 539.2h0M427.7 537.9h0M427.7 536.6h0M427.7 535.3h0M427.7 534.4h0M430 539.2h0M430 537.9h0M430 536.6h0M430 535.3h0M430 534h0M430 532.7h0M430 531.4h0M430 530.5h0" stroke="#414141" stroke-width="3.25" stroke-linecap="round" fill="none"/>
<path d="M426.2 519.7h0M431.2 526.3h0M425.2 525.2h0M430.7 525.2h0" stroke="#393939" stroke-width="3.25" stroke-linecap="round" fill="none"/>
<path d="M435.9 539.2h0M439.7 537.1h0M440.3 538.6h0M437 539.4h0M441.4 539.6h0M440.3 538.1h0M439.6 538.4h0M442.8 537.9h0M436.1 537.9h0M438.5 538.9h0M440.7 537.9h0M440.6 536.4h0M436 537.9h0M433.7 537.9h0M443.3 538.9h0M441.8 538.8h0M443.5 539.2h0M443.5 537.9h0M443.5 536.6h0M443.5 535.3h0M443.5 534h0M443.5 533h0M435.2 539.2h0M435.2 537.9h0M435.2 536.6h0M435.2 535.3h0M435.2 534h0M435.2 533h0" stroke="#575757" stroke-width="3.25" stroke-linecap="round" fill="none"/>
<path d="M440.7 527.9h0M440.7 528.2h0M440.6 529.7h0M440.7 531.6h0M440.7 533.7h0" stroke="#4d4d4d" stroke-width="3.25" stroke-linecap="round" fill="none"/>
<path d="M453.6 534.7h0M447.5 538.6h0M448.5 538.4h0M448.1 536.4h0M448.3 539h0M453.6 538.5h0M454.9 539.5h0M446.4 539.3h0M450.4 534.8h0M453.6 534.8h0M446.5 537.6h0M448.4 535.7h0M446.6 538.9h0M454.4 539.1h0M450.9 539h0M448.2 538.9h0M448.4 538h0M454.2 539.6h0M452.9 537.6h0M448.2 539.3h0M445.8 535.5h0M454.4 535h0M453.8 534.8h0M447.3 539.2h0M447.3 537.9h0M447.3 536.6h0M447.3 535.3h0M447.3 534h0M447.3 532.7h0M447.3 532.1h0M452.5 539.2h0M452.5 537.9h0M452.5 536.6h0M452.5 535.3h0M452.5 534h0M452.5 532.7h0M452.5 531.8h0" stroke="#6c6c6c" stroke-width="3.25" stroke-linecap="round" fill="none"/>
<path d="M450.2 529.5h0M454.4 527.9h0" stroke="#5f5f5f" stroke-width="3.25" stroke-linecap="round" fill="none"/>
<path d="M462.7 533.3h0M467.8 530.7h0M458.3 539.5h0M464.3 538.5h0M466.3 537.9h0M466.2 537.3h0M465.7 539.1h0M464.8 538.6h0M465.7 538.6h0M460.6 538.1h0M464.6 537.9h0M464.6 537.1h0M462 531.4h0M463.9 539.4h0M466.3 535.1h0M457.4 539.5h0M467.2 537.1h0M460.5 539.2h0M460.5 537.9h0M460.5 536.6h0M460.5 535.3h0M460.5 534.8h0M462.7 539.2h0M462.7 537.9h0M462.7 536.6h0M462.7 535.3h0M462.7 534h0M462.7 533.2h0" stroke="#838383" stroke-width="3.25" stroke-linecap="round" fill="none"/>
<path d="M459.7 513.1h0M462.5 516.8h0M459.8 524.8h0M459.7 526.3h0M459.8 527.7h0M459.8 529.3h0M459.6 531h0M459.6 533.3h0" stroke="#737373" stroke-width="3.25" stroke-linecap="round" fill="none"/>
<path d="M471.1 538.8h0M474 536.6h0M473.5 538.6h0M476.1 538.3h0M476.7 535.3h0M473.7 538.4h0M473.6 539h0M474.9 539.6h0M476.3 539.3h0M471 538.8h0M473 539.4h0M470.8 539.2h0M473.4 538.5h0M472.9 537.7h0M470.4 533.9h0M474.9 532.3h0M470.7 536.6h0M472.8 538.9h0M471.5 539.2h0M471.5 537.9h0M471.5 536.6h0M471.5 535.3h0M471.5 534.9h0" stroke="#7d7d7d" stroke-width="3.25" stroke-linecap="round" fill="none"/>
<path d="M473.5 530.1h0M476 525.2h0" stroke="#6e6e6e" stroke-width="3.25" stroke-linecap="round" fill="none"/>
<path d="M481.5 534.8h0M479.5 538.2h0M482.2 535.4h0M481.8 538.7h0M483.8 538.8h0M485.6 537.9h0M480.2 539.3h0M483.2 539.4h0M481.2 537.7h0M482.7 539.3h0M480.6 537.2h0M482.2 537.6h0M480.9 538h0M481.7 539.2h0M481.7 537.9h0M481.7 536.6h0M481.7 535.3h0M481.7 535.3h0" stroke="#6e6e6e" stroke-width="3.25" stroke-linecap="round" fill="none"/>
<path d="M479 512.5h0M479 515.7h0M479 518.2h0M485.1 516.1h0M485.1 521.6h0M487.8 524.5h0" stroke="#616161" stroke-width="3.25" stroke-linecap="round" fill="none"/>
<path d="M489.3 539.3h0M492.8 536.5h0M489.3 539.2h0M492.4 536.5h0M491.8 538.5h0M492.8 537.1h0M491.7 537.1h0M492.3 538.3h0M491.1 531.3h0M492.4 539.2h0M492.4 537.9h0M492.4 536.6h0M492.4 535.3h0M492.4 534h0M492.4 533.7h0" stroke="#4f4f4f" stroke-width="3.25" stroke-linecap="round" fill="none"/>
<path d="M490 525.8h0" stroke="#454545" stroke-width="3.25" stroke-linecap="round" fill="none"/>
<path d="M497.8 534.5h0M498.4 538.1h0M499 537.7h0M495.2 537.1h0M499.9 539.2h0M499.9 537.9h0M499.9 536.6h0M499.9 535.3h0M499.9 534.4h0" stroke="#424242" stroke-width="3.25" stroke-linecap="round" fill="none"/>
<path d="M495.3 530.1h0" stroke="#3b3b3b" stroke-width="3.25" stroke-linecap="round" fill="none"/>
<line x1="52" y1="494.6" x2="519" y2="494.6" stroke="#8a8a8a" stroke-width="1.1" stroke-dasharray="1.2 1.2"/>
<rect x="50.8" y="321.9" width="467.7" height="262.3" fill="none" stroke="#565656" stroke-width="1.25"/>
<line x1="47.8" y1="574.1" x2="50.8" y2="574.1" stroke="#565656" stroke-width="1"/>
<line x1="47.8" y1="520" x2="50.8" y2="520" stroke="#565656" stroke-width="1"/>
<line x1="47.8" y1="465.5" x2="50.8" y2="465.5" stroke="#565656" stroke-width="1"/>
<line x1="47.8" y1="410.66" x2="50.8" y2="410.66" stroke="#565656" stroke-width="1"/>
<line x1="47.8" y1="355.65" x2="50.8" y2="355.65" stroke="#565656" stroke-width="1"/>
<line x1="85.5" y1="584.2" x2="85.5" y2="587.8" stroke="#565656" stroke-width="1"/>
<line x1="119.5" y1="584.2" x2="119.5" y2="587.8" stroke="#565656" stroke-width="1"/>
<line x1="153.5" y1="584.2" x2="153.5" y2="587.8" stroke="#565656" stroke-width="1"/>
<line x1="185.5" y1="584.2" x2="185.5" y2="587.8" stroke="#565656" stroke-width="1"/>
<line x1="214.5" y1="584.2" x2="214.5" y2="587.8" stroke="#565656" stroke-width="1"/>
<line x1="243.5" y1="584.2" x2="243.5" y2="587.8" stroke="#565656" stroke-width="1"/>
<line x1="270.5" y1="584.2" x2="270.5" y2="587.8" stroke="#565656" stroke-width="1"/>
<line x1="295.5" y1="584.2" x2="295.5" y2="587.8" stroke="#565656" stroke-width="1"/>
<line x1="317.5" y1="584.2" x2="317.5" y2="587.8" stroke="#565656" stroke-width="1"/>
<line x1="338.5" y1="584.2" x2="338.5" y2="587.8" stroke="#565656" stroke-width="1"/>
<line x1="359.5" y1="584.2" x2="359.5" y2="587.8" stroke="#565656" stroke-width="1"/>
<line x1="380.5" y1="584.2" x2="380.5" y2="587.8" stroke="#565656" stroke-width="1"/>
<line x1="398.5" y1="584.2" x2="398.5" y2="587.8" stroke="#565656" stroke-width="1"/>
<line x1="413.5" y1="584.2" x2="413.5" y2="587.8" stroke="#565656" stroke-width="1"/>
<line x1="427.5" y1="584.2" x2="427.5" y2="587.8" stroke="#565656" stroke-width="1"/>
<line x1="440.5" y1="584.2" x2="440.5" y2="587.8" stroke="#565656" stroke-width="1"/>
<line x1="452.5" y1="584.2" x2="452.5" y2="587.8" stroke="#565656" stroke-width="1"/>
<line x1="464.5" y1="584.2" x2="464.5" y2="587.8" stroke="#565656" stroke-width="1"/>
<line x1="475.5" y1="584.2" x2="475.5" y2="587.8" stroke="#565656" stroke-width="1"/>
<line x1="484.5" y1="584.2" x2="484.5" y2="587.8" stroke="#565656" stroke-width="1"/>
<line x1="492.5" y1="584.2" x2="492.5" y2="587.8" stroke="#565656" stroke-width="1"/>
<line x1="498.5" y1="584.2" x2="498.5" y2="587.8" stroke="#565656" stroke-width="1"/>
<path d="M67.7 855.8L101.2 855.8V895.9H68.7Q66.2 895.9 66.2 892.9V864.8Z" fill="#555555"/>
<rect x="100.2" y="858.5" width="36.8" height="37.4" fill="#6e6e6e"/>
<rect x="136" y="858.5" width="32.8" height="37.4" fill="#888888"/>
<rect x="167.8" y="858.5" width="32.4" height="37.4" fill="#909090"/>
<rect x="199.2" y="858.5" width="29.3" height="37.4" fill="#767676"/>
<rect x="227.5" y="858.5" width="30.9" height="37.4" fill="#5d5d5d"/>
<rect x="257.4" y="855.2" width="25" height="40.7" fill="#474747"/>
<rect x="281.4" y="858.5" width="25.6" height="37.4" fill="#505050"/>
<rect x="306" y="858.5" width="20.4" height="37.4" fill="#686868"/>
<rect x="325.4" y="858.5" width="22.5" height="37.4" fill="#818181"/>
<rect x="346.9" y="858.5" width="22.8" height="37.4" fill="#979797"/>
<rect x="368.7" y="858.5" width="22.5" height="37.4" fill="#7e7e7e"/>
<rect x="390.2" y="858.5" width="16.6" height="37.4" fill="#6b6b6b"/>
<rect x="405.8" y="858.5" width="15.5" height="37.4" fill="#4f4f4f"/>
<rect x="420.3" y="858.5" width="13.5" height="37.4" fill="#464646"/>
<rect x="432.8" y="858.5" width="13.1" height="37.4" fill="#5e5e5e"/>
<rect x="444.9" y="858.5" width="12.7" height="37.4" fill="#757575"/>
<rect x="456.6" y="858.5" width="13.2" height="37.4" fill="#8d8d8d"/>
<rect x="468.8" y="858.5" width="10" height="37.4" fill="#878787"/>
<rect x="477.8" y="853" width="11.3" height="42.9" fill="#777777"/>
<rect x="488.1" y="858.5" width="6.9" height="37.4" fill="#555555"/>
<path d="M494 858.5H500.7L502.7 869.5V892.9Q502.7 895.9 500.2 895.9H494Z" fill="#484848"/>
<path d="M88.5 854.4h0M83.9 851.8h0M87.2 856.3h0M81.5 855.2h0M69.9 850.7h0M96.2 856.2h0M69.2 854.7h0M85 855.9h0M78 854.4h0M87 856.4h0M95.5 852.1h0M80.6 855.7h0M74 856.5h0M87.7 856.1h0M98.3 855.4h0M81.7 855.6h0M97.1 854.8h0M84.2 855.1h0M87.7 856.5h0M74.1 852.7h0M70.4 853.5h0M99.3 856.8h0M68.4 853.1h0M81.1 853.8h0M92.6 855.8h0M79.6 855.7h0M91.3 854.8h0M98.4 856.2h0M68.4 854.9h0M77.8 855.3h0M71.9 851.5h0M88.3 852.4h0M78.5 855.6h0M74.4 854.6h0M81.6 855.6h0M77.1 856.4h0M75.5 856.8h0M97.9 855.7h0M71.3 856.1h0M96.4 853.8h0M95.5 848.5h0M92.9 848h0M82.5 853.8h0M77.7 855h0M77.7 855.4h0M97.2 854.7h0M82.3 855.5h0M95.4 853.3h0M87.6 855.4h0M71.8 855.9h0M85.4 856.3h0M73.8 852.2h0M73.7 855.6h0M78.2 854.8h0M78.7 856.4h0M85.7 856.3h0M96.7 856.1h0M87.3 856.5h0M91.5 853.2h0M87.6 854.7h0M94.1 854.6h0M96.2 854h0M74.8 856.2h0M85.4 855.4h0M75.9 855.8h0M85.3 856.1h0M83.6 856.7h0M75.8 849.1h0M92.6 856.5h0M76.2 856.5h0M76.2 855.2h0M76.2 853.9h0M76.2 852.6h0M76.2 851.3h0M76.2 850h0M76.2 848.7h0M76.2 847.3h0M76.2 846.9h0M75.1 856.5h0M75.1 855.2h0M75.1 853.9h0M75.1 852.6h0M75.1 851.3h0M75.1 851.2h0M73.5 856.5h0M73.5 855.2h0M73.5 853.9h0M73.5 852.6h0M73.5 851.3h0M73.5 850h0M73.5 849.3h0M85.3 856.5h0M85.3 855.2h0M85.3 853.9h0M85.3 852.6h0M85.3 851.5h0M73.6 856.5h0M73.6 855.2h0M73.6 853.9h0M73.6 852.6h0M73.6 851.3h0M73.6 850h0M73.6 848.7h0M73.6 847.3h0M73.6 846h0M73.6 844.9h0M98.7 856.5h0M98.7 855.2h0M98.7 853.9h0M98.7 852.6h0M98.7 851.3h0M98.7 850h0M98.7 848.7h0M98.7 847.4h0M83.6 856.5h0M83.6 855.2h0M83.6 853.9h0M83.6 852.6h0M83.6 851.4h0M93.5 856.5h0M93.5 855.2h0M93.5 853.9h0M93.5 852.6h0M93.5 851.3h0M93.5 850h0M93.5 848.7h0M93.5 847.3h0M93.5 846h0M93.5 844.7h0M93.5 844.6h0M99 856.5h0M99 855.2h0M99 853.9h0M99 852.6h0M99 851.3h0M99 850h0M99 848.7h0M99 848h0" stroke="#4f4f4f" stroke-width="3.25" stroke-linecap="round" fill="none"/>
<path d="M77 837.2h0M77 844.6h0M77 847.3h0M90.8 839.2h0M96.8 836.8h0M84.2 848.4h0M91.3 843.8h0M91.3 846h0M91.1 848h0M91.4 849.9h0M91.4 852h0M91.4 853.7h0M91.2 855.4h0M91.2 856.9h0" stroke="#454545" stroke-width="3.25" stroke-linecap="round" fill="none"/>
<path d="M129 856.3h0M130.8 857.5h0M103 858.5h0M126.8 857.4h0M106.6 857.7h0M133.6 858.4h0M115.6 856.5h0M132.1 857.4h0M108 858.7h0M117.6 857.3h0M125 857.2h0M115.7 851.6h0M106.5 858.7h0M134.9 858.7h0M105.5 851.9h0M102 858.6h0M121 859h0M128.6 859.1h0M134.8 856.1h0M105.7 857.6h0M119 857h0M132.1 856h0M115.2 859.1h0M114.6 859.5h0M120.8 859.5h0M133.9 859.3h0M101.8 857h0M110 858h0M113.9 856.6h0M133.5 857.7h0M103.4 859.4h0M130.6 851.5h0M126.3 858.7h0M127 858.9h0M133.2 855.2h0M113.1 858.6h0M124.9 855.2h0M113.8 856.7h0M107.2 858.7h0M122.5 858.5h0M119 859.2h0M101.1 858.4h0M107 858.9h0M116.6 855.2h0M122.8 857.9h0M104.4 857.1h0M116.4 858.2h0M110.8 856.7h0M106.5 854.5h0M110.8 859.5h0M132.8 859.5h0M124.1 858.2h0M127.2 859.1h0M121.7 852.5h0M108.7 856.7h0M106.1 857.8h0M130.3 858.9h0M102.2 859.1h0M132.7 859.2h0M132.9 854.9h0M125 859h0M111.3 858.7h0M101.7 859.1h0M125.4 857.5h0M131.8 858.4h0M131.7 855.3h0M113.3 858.4h0M116.6 855.4h0M110.1 855.4h0M102 858h0M123.2 857h0M118.6 859.5h0M116.9 859.3h0M114.8 858.5h0M128.7 855.2h0M123.8 858.1h0M105.4 859.3h0M128.4 859.6h0M119.5 858h0M110.4 858.2h0M103.9 857.7h0M131.3 859.5h0M133.1 859h0M134.9 858.6h0M106.2 859.2h0M106.2 857.9h0M106.2 856.6h0M106.2 855.3h0M106.2 854h0M106.2 852.7h0M106.2 851.4h0M106.2 850.1h0M106.2 848.8h0M106.2 848.5h0M120.8 859.2h0M120.8 857.9h0M120.8 856.6h0M120.8 855.3h0M120.8 854h0M120.8 852.7h0M120.8 851.4h0M120.8 850.1h0M113.3 859.2h0M113.3 857.9h0M113.3 856.6h0M113.3 855.3h0M113.3 854h0M113.3 852.7h0M113.3 851.4h0M125.8 859.2h0M125.8 857.9h0M125.8 856.6h0M125.8 855.3h0M125.8 854h0M125.8 854h0M113 859.2h0M113 857.9h0M113 856.6h0M113 855.3h0M113 854h0M113 852.7h0M113 851.4h0M113 850.1h0M113 848.8h0M113 848.4h0M108.7 859.2h0M108.7 857.9h0M108.7 856.6h0M108.7 855.3h0M108.7 854h0M108.7 852.7h0M108.7 851.4h0M108.7 851h0M122.5 859.2h0M122.5 857.9h0M122.5 856.6h0M122.5 855.3h0M122.5 854h0M122.5 852.7h0M122.5 852.1h0M134.7 859.2h0M134.7 857.9h0M134.7 856.6h0M134.7 855.3h0M134.7 854h0M134.7 852.7h0M134.7 851.4h0M134.7 850.1h0M134.7 848.9h0M118.4 859.2h0M118.4 857.9h0M118.4 856.6h0M118.4 855.3h0M118.4 854h0M118.4 852.7h0M118.4 851.4h0M118.4 850.1h0M118.4 849h0M109.9 859.2h0M109.9 857.9h0M109.9 856.6h0M109.9 855.3h0M109.9 854h0M109.9 852.7h0M109.9 851.4h0M109.9 850.1h0M109.9 848.8h0M109.9 847.5h0" stroke="#666666" stroke-width="3.25" stroke-linecap="round" fill="none"/>
<path d="M113 838.6h0M117 840.2h0M134.2 842.8h0M107.6 843.8h0M107.4 845.3h0M107.5 846.8h0M107.4 848.5h0M107.5 850.3h0M107.5 852h0M107.6 854.1h0M107.6 856h0M113.7 841.2h0M113.6 843.2h0M113.6 845.3h0M113.8 847h0M113.7 849.2h0M113.7 850.8h0M113.7 852.7h0M113.6 854.8h0M113.9 856.3h0M120.8 842.5h0M120.7 844.4h0M120.9 846.6h0M120.7 848.6h0M120.8 850.5h0M120.7 852.3h0M120.8 854.5h0M120.8 856.2h0" stroke="#5a5a5a" stroke-width="3.25" stroke-linecap="round" fill="none"/>
<path d="M155.7 855.9h0M153.2 855.2h0M150.1 857.5h0M152.4 859.5h0M140.6 857.6h0M154.5 859.4h0M155 858.5h0M145.1 859.6h0M143.2 859.3h0M158.8 859.5h0M143.1 859.4h0M149.8 857.8h0M145.3 857.7h0M164.8 859.4h0M166.1 859.3h0M165.4 859.3h0M150 856h0M138 859h0M160.9 858.5h0M136.9 854.9h0M155.1 857.6h0M141.4 857.4h0M142.7 859.3h0M156.1 858.7h0M161 859.2h0M162.2 854.3h0M157 858.5h0M166 859.1h0M148.5 858.4h0M156.1 858.8h0M155.9 855.2h0M160.5 857.5h0M159.6 858.2h0M158.1 857.5h0M149.6 856.1h0M151.6 858.7h0M141.7 859.3h0M137.2 859h0M150.5 857.5h0M139.7 857h0M148 858.7h0M150.6 857.6h0M136.8 856.6h0M141.5 858.9h0M155.9 858.1h0M140.4 856.5h0M163.4 859.5h0M144.3 859.2h0M142.5 856.5h0M140.4 858.6h0M163.4 859.4h0M144.1 859.2h0M144.1 857.9h0M144.1 856.6h0M144.1 855.3h0M144.1 854h0M144.1 852.7h0M144.1 851.4h0M144.1 850.1h0M144.1 848.8h0M144.1 847.5h0M144.1 847h0M144.5 859.2h0M144.5 857.9h0M144.5 856.6h0M144.5 855.3h0M144.5 854h0M144.5 852.7h0M144.5 851.4h0M144.5 850.1h0M144.5 848.8h0M144.5 847.5h0M144.5 846.2h0M145 859.2h0M145 857.9h0M145 856.6h0M145 855.3h0M145 854h0M145 852.7h0M145 851.4h0M145 851h0M140.1 859.2h0M140.1 857.9h0M140.1 856.6h0M140.1 855.3h0M140.1 854h0M140.1 852.7h0M140.1 852.5h0M150.4 859.2h0M150.4 857.9h0M150.4 856.6h0M150.4 855.3h0M150.4 854h0M150.4 852.7h0M150.4 851.4h0M150.4 850.1h0M150.4 848.8h0M150.4 847.5h0M150.4 847.2h0M145.5 859.2h0M145.5 857.9h0M145.5 856.6h0M145.5 855.3h0M145.5 854h0M145.5 853.9h0M165.1 859.2h0M165.1 857.9h0M165.1 856.6h0M165.1 855.3h0M165.1 854h0M165.1 852.7h0M138.9 859.2h0M138.9 857.9h0M138.9 856.6h0M138.9 855.3h0M138.9 854h0M138.9 852.7h0M138.9 851.4h0M138.9 850.1h0M138.9 849.4h0" stroke="#7e7e7e" stroke-width="3.25" stroke-linecap="round" fill="none"/>
<path d="M148 836h0M140.5 848.4h0M159.2 839.7h0M148 842.5h0M148 844.1h0M148.1 845.8h0M148 847.3h0M148.1 849h0M148.1 850.5h0M147.9 852.3h0M147.9 854h0M148.1 855.4h0M160.6 842h0M160.5 844.3h0M160.4 846.3h0M160.6 848.5h0M160.5 850.2h0M160.6 851.7h0M160.5 853.9h0M160.6 856h0" stroke="#6f6f6f" stroke-width="3.25" stroke-linecap="round" fill="none"/>
<path d="M175.3 858.7h0M179.4 853.7h0M179.3 859h0M195.5 857.4h0M191.7 859.1h0M186.5 857.8h0M173.5 850.8h0M182.5 854.9h0M175.6 858.8h0M171.4 857.5h0M195.3 857.5h0M174.9 856.6h0M182.6 851.9h0M185.1 854h0M198.3 856.8h0M185.7 858.4h0M174 857.6h0M179.1 854.6h0M193.3 858.3h0M182.2 858.7h0M175.7 858.6h0M176.6 858.3h0M192.7 858.9h0M188 858.7h0M178.9 857.1h0M198.3 859h0M170.8 856.7h0M189.9 858.8h0M194.2 857.8h0M179.5 858.6h0M183.5 856.9h0M172.7 857.5h0M195.1 853.9h0M176.4 859.2h0M186.3 859.2h0M169.3 857.1h0M192.9 858.1h0M192.8 855h0M183.9 859.2h0M190 856.8h0M183 856.8h0M179.7 856.5h0M188.4 858.9h0M195 857.9h0M173.3 858.7h0M184 857.9h0M176.2 858h0M172 858.2h0M197.3 858.8h0M181.8 859.2h0M176 858.3h0M173.1 858.6h0M171.5 858.6h0M184.3 859.2h0M172 857.9h0M177.2 858.6h0M178.7 858.7h0M169.6 857.5h0M194.4 858.4h0M176.7 859.2h0M176.7 857.9h0M176.7 856.6h0M176.7 855.3h0M176.7 854h0M176.7 852.7h0M176.7 851.4h0M176.7 850.1h0M176.7 849h0M170.2 859.2h0M170.2 857.9h0M170.2 856.6h0M170.2 855.3h0M170.2 854h0M170.2 852.7h0M170.2 851.4h0M170.2 850.1h0M170.2 849.8h0M192.2 859.2h0M192.2 857.9h0M192.2 856.6h0M192.2 855.3h0M192.2 854h0M192.2 852.9h0M178 859.2h0M178 857.9h0M178 856.6h0M178 855.3h0M178 854h0M178 852.7h0M178 851.4h0M178 850.1h0M178 849h0M193.3 859.2h0M193.3 857.9h0M193.3 856.6h0M193.3 855.3h0M193.3 854h0M193.3 852.7h0M193.3 851.4h0M193.3 850.1h0M193.3 848.8h0M193.3 847.5h0M193.3 846.1h0M193.3 846.1h0M173.2 859.2h0M173.2 857.9h0M173.2 856.6h0M173.2 855.3h0M173.2 854h0M173.2 852.7h0M173.2 852.6h0M171.4 859.2h0M171.4 857.9h0M171.4 856.6h0M171.4 855.3h0M171.4 854h0M171.4 853.1h0M197.7 859.2h0M197.7 857.9h0M197.7 856.6h0M197.7 855.3h0M197.7 854h0M197.7 852.7h0M197.7 851.4h0M197.7 850.1h0M197.7 848.8h0M197.7 847.7h0" stroke="#858585" stroke-width="3.25" stroke-linecap="round" fill="none"/>
<path d="M174.2 845.5h0M171.2 847.3h0M187.5 844.6h0M192 841h0M192 843.1h0M191.9 844.6h0M191.9 846.5h0M191.9 848h0M191.9 849.7h0M192.1 851.6h0M192.1 853.1h0M191.9 854.8h0M192.1 856.9h0" stroke="#767676" stroke-width="3.25" stroke-linecap="round" fill="none"/>
<path d="M225.6 857.7h0M213.6 858.6h0M217.9 859.5h0M223.6 858.5h0M206.1 854.1h0M200.9 859h0M208.7 859.1h0M223 855.9h0M221.7 858.2h0M224.3 858.1h0M200.5 859.5h0M206.1 858.8h0M201.7 858.2h0M219 858.3h0M208.2 857.8h0M223.4 857.6h0M210.7 856.4h0M218.2 857h0M213.6 855.6h0M212.2 858.4h0M206.5 858.8h0M209.5 859.5h0M208.4 858.3h0M202.4 859.5h0M226.3 859.5h0M214.9 858.4h0M207.3 855.9h0M215.1 845h0M200.7 856.1h0M213.4 859.3h0M222.6 859h0M208.9 858.3h0M224.6 857.6h0M217.9 856.7h0M206.7 857.2h0M220.9 858.4h0M210 856h0M220.9 857.6h0M221.7 859.5h0M224.7 856.9h0M203.3 856.5h0M222.5 858.1h0M203.9 858.3h0M203 859.2h0M218.5 853.7h0M207 856.5h0M221.7 854.5h0M222 854.3h0M214.4 856h0M218.6 859.1h0M213.5 859.1h0M207.3 858.9h0M214.1 859.6h0M219.2 850.9h0M221.7 855h0M221.3 858.7h0M225.7 857.4h0M221 859.4h0M220.4 855.9h0M216.3 859.2h0M216.3 857.9h0M216.3 856.6h0M216.3 855.3h0M216.3 854h0M216.3 852.7h0M216.3 852.4h0M211 859.2h0M211 857.9h0M211 856.6h0M211 855.3h0M211 854h0M211 852.7h0M211 851.5h0M226 859.2h0M226 857.9h0M226 856.6h0M226 855.3h0M226 854h0M226 853.2h0M226.6 859.2h0M226.6 857.9h0M226.6 856.6h0M226.6 855.3h0M226.6 854.3h0M221.5 859.2h0M221.5 857.9h0M221.5 856.6h0M221.5 855.3h0M221.5 854h0M221.5 852.7h0M221.5 851.4h0M221.5 850.1h0M221.5 848.8h0M221.5 847.5h0M221.5 847h0M221.4 859.2h0M221.4 857.9h0M221.4 856.6h0M221.4 855.3h0M221.4 854h0M221.4 852.7h0M221.4 851.4h0M221.4 850.1h0M221.4 848.8h0M221.4 847.8h0M206.7 859.2h0M206.7 857.9h0M206.7 856.6h0M206.7 855.3h0M206.7 854h0M206.7 852.7h0M206.7 851.4h0M206.7 850.1h0M206.7 848.8h0M206.7 847.5h0M206.7 846.1h0M206.7 845.3h0" stroke="#6d6d6d" stroke-width="3.25" stroke-linecap="round" fill="none"/>
<path d="M215 846.8h0M206.6 833h0M206.7 835.2h0M206.8 836.7h0M206.7 838.4h0M206.6 843.8h0M206.7 845.7h0M206.7 847.1h0M206.6 848.6h0M206.7 850.2h0M206.7 852h0M206.6 853.6h0M206.8 855.1h0M206.7 856.6h0" stroke="#606060" stroke-width="3.25" stroke-linecap="round" fill="none"/>
<path d="M235.6 859.2h0M234.9 858.2h0M247.4 858.7h0M253 858.6h0M247 859.4h0M229.3 859.3h0M230.3 855.8h0M228.7 855.4h0M252.4 858.8h0M230.1 849.9h0M240.1 859h0M237.2 859.3h0M238.9 857.4h0M235.2 853.5h0M246.3 857.9h0M228.4 856.6h0M232.3 857.4h0M233.6 858.6h0M239.4 856.5h0M246.6 858.8h0M229.4 856.7h0M244.1 856.3h0M254.8 857.7h0M234.7 858.1h0M233 857h0M254.8 855.7h0M244.3 858.7h0M232.2 852.1h0M231.9 859.1h0M244.3 859.4h0M242.3 856.7h0M238.4 854.4h0M237.4 855.1h0M254 856.3h0M238.9 856.2h0M247.6 859.5h0M237.4 859h0M235.6 857.1h0M245.2 851.1h0M243.6 859.4h0M235.2 859.3h0M241.5 858.5h0M247 858.2h0M250.3 858.1h0M234 853.8h0M245 858.6h0M231.9 853.7h0M229.9 859.3h0M255.4 859.1h0M242.2 858.4h0M237 859.6h0M235.1 857.9h0M245.1 856.9h0M238.5 854.5h0M253 859.5h0M235.1 859.2h0M235.1 857.9h0M235.1 856.6h0M235.1 855.3h0M235.1 854h0M235.1 852.7h0M235.1 852.2h0M252.9 859.2h0M252.9 857.9h0M252.9 856.6h0M252.9 855.3h0M252.9 854h0M252.9 852.7h0M252.9 851.4h0M252.9 850.1h0M252.9 849.5h0M244.4 859.2h0M244.4 857.9h0M244.4 856.6h0M244.4 855.3h0M244.4 854h0M244.4 852.7h0M244.4 851.4h0M244.4 850.1h0M244.4 848.8h0M244.4 847.5h0M244.4 847.1h0M255.9 859.2h0M255.9 857.9h0M255.9 856.6h0M255.9 855.3h0M255.9 854h0M255.9 852.7h0M255.9 851.9h0M243.1 859.2h0M243.1 857.9h0M243.1 856.6h0M243.1 855.3h0M243.1 854h0M243.1 852.7h0M243.1 851.4h0M243.1 850.1h0M243.1 848.8h0M243.1 847.5h0M243.1 846.1h0M243.1 845.8h0M250.8 859.2h0M250.8 857.9h0M250.8 856.6h0M250.8 855.3h0M250.8 854h0M250.8 852.7h0M250.8 852h0M237.1 859.2h0M237.1 857.9h0M237.1 856.6h0M237.1 855.3h0M237.1 854h0M237.1 852.7h0M237.1 851.4h0M237.1 850.1h0M237.1 848.8h0M237.1 847.5h0M237.1 846.1h0M237.1 845.5h0M254.7 859.2h0M254.7 857.9h0M254.7 856.6h0M254.7 855.3h0M254.7 854h0M254.7 852.7h0M254.7 851.4h0M254.7 850.1h0M254.7 848.8h0M254.7 847.5h0" stroke="#565656" stroke-width="3.25" stroke-linecap="round" fill="none"/>
<path d="M230.5 841.9h0M252.5 848.4h0M235.9 837.5h0M235.7 839.7h0M235.9 841.7h0M235.6 843.3h0M235.9 845.5h0M235.9 847.6h0M235.7 849.4h0M235.9 851.2h0M235.7 852.9h0M235.6 854.7h0M235.9 856.6h0" stroke="#4c4c4c" stroke-width="3.25" stroke-linecap="round" fill="none"/>
<path d="M276.2 854.9h0M272.9 855h0M263.8 852.5h0M267.7 854.5h0M258.4 855.1h0M258.8 853.8h0M262.6 852.8h0M268.3 852h0M262.4 853.9h0M270.9 856.2h0M268.9 855.9h0M265.4 854.3h0M275.8 855.1h0M280.6 854.2h0M262.9 854.4h0M263.5 855.8h0M278.7 852.3h0M267.3 855.6h0M261.8 856h0M272.1 851.9h0M265.7 856.3h0M265.5 854.7h0M278.1 855h0M265.5 856.2h0M275.3 855.7h0M268.9 855.4h0M274.5 851.2h0M266.8 854h0M258.9 855.8h0M273.1 854h0M268 854.8h0M265.7 855.4h0M273 852h0M277.5 854.4h0M279.3 854.6h0M276.1 852.8h0M266.5 855h0M278.4 855.4h0M271.7 856.1h0M280.5 856.2h0M279.6 855.7h0M275.9 843.8h0M263.5 852.7h0M280.6 853.9h0M265.7 856h0M269.8 852.2h0M274.1 856h0M274.1 854.7h0M274.1 853.3h0M274.1 852h0M274.1 850.7h0M274.1 849.4h0M274.1 848.1h0M274.1 847.3h0M258.7 856h0M258.7 854.7h0M258.7 853.3h0M258.7 852h0M258.7 850.7h0M258.7 849.9h0M262.6 856h0M262.6 854.7h0M262.6 853.3h0M262.6 852h0M262.6 850.7h0M262.6 850.5h0M276.7 856h0M276.7 854.7h0M276.7 853.3h0M276.7 852h0M276.7 850.7h0M276.7 849.4h0M276.7 848.1h0M276.7 846.8h0M276.7 845.5h0M276.7 844.2h0M276.7 844.1h0M274.7 856h0M274.7 854.7h0M274.7 853.3h0M274.7 852h0M274.7 850.7h0M274.7 849.4h0M274.7 848.1h0M274.7 846.8h0M274.7 845.5h0M274.7 845.2h0M266.2 856h0M266.2 854.7h0M266.2 853.3h0M266.2 852h0M266.2 850.7h0M266.2 849.4h0M266.2 848.1h0M266.2 848h0" stroke="#424242" stroke-width="3.25" stroke-linecap="round" fill="none"/>
<path d="M265 850.6h0M272.6 835.8h0M272.6 837.7h0M272.6 839.7h0M272.4 841.3h0M272.4 843.3h0M272.5 845.1h0M272.5 847h0M272.6 849.3h0M272.4 851.5h0M272.5 853.6h0" stroke="#3a3a3a" stroke-width="3.25" stroke-linecap="round" fill="none"/>
<path d="M296.1 859.2h0M304.6 853.7h0M298.7 859.2h0M299.8 856.6h0M287.7 859.3h0M294.3 857.9h0M297 859.5h0M289.4 858.5h0M290.5 857.3h0M291.1 857.6h0M302 858.5h0M293.6 859h0M297.9 858.1h0M289.2 858.7h0M296.8 858.3h0M297.9 854.2h0M282.5 859.5h0M297.8 858.1h0M286.5 859.1h0M295.7 858.2h0M296.7 859.3h0M300.5 853.8h0M289.5 855.4h0M295.8 856.7h0M296.1 859.5h0M300.1 858.2h0M299.4 859.1h0M290 858.2h0M302.7 857.4h0M304.6 854.9h0M296.9 858.1h0M299.6 857.8h0M283.7 858.2h0M283.1 849.9h0M287.1 859h0M292.4 855.1h0M291.3 853h0M290.3 856.5h0M297.7 857.2h0M294.3 850.5h0M286.9 853.9h0M302.6 857.4h0M305.1 857.9h0M300.5 858h0M303 856.8h0M299.7 859.1h0M288.5 859.2h0M288.5 857.9h0M288.5 856.6h0M288.5 855.3h0M288.5 854h0M288.5 852.7h0M288.5 851.4h0M288.5 850.1h0M288.5 849.8h0M287.4 859.2h0M287.4 857.9h0M287.4 856.6h0M287.4 855.3h0M287.4 854h0M287.4 852.7h0M287.4 851.4h0M287.4 850.1h0M287.4 848.8h0M287.4 847.5h0M287.4 846.1h0M287.4 845.5h0M291.3 859.2h0M291.3 857.9h0M291.3 856.6h0M291.3 855.3h0M291.3 854h0M291.3 852.7h0M291.3 851.4h0M291.3 851.2h0M295.6 859.2h0M295.6 857.9h0M295.6 856.6h0M295.6 855.3h0M295.6 854h0M295.6 852.7h0M295.6 851.4h0M295.6 850.1h0M295.6 848.8h0M295.6 848.3h0M303.6 859.2h0M303.6 857.9h0M303.6 856.6h0M303.6 855.3h0M303.6 854h0M303.6 853.6h0M302.8 859.2h0M302.8 857.9h0M302.8 856.6h0M302.8 855.3h0M302.8 854h0M302.8 852.7h0M302.8 851.4h0M302.8 851.2h0" stroke="#4a4a4a" stroke-width="3.25" stroke-linecap="round" fill="none"/>
<path d="M290 837.7h0M295 837.2h0M295 839.7h0M293 848.4h0M298 847.3h0M289.9 844.5h0M290.1 846.8h0M290 848.3h0M290.1 850.4h0M290 851.9h0M289.9 853.7h0M289.9 855.2h0" stroke="#414141" stroke-width="3.25" stroke-linecap="round" fill="none"/>
<path d="M314.3 858.3h0M312 855.4h0M314.6 854.7h0M307.8 859.4h0M312.7 858.6h0M323.8 859.4h0M316.5 855.5h0M309.7 859.3h0M309.5 858.4h0M324.2 858.1h0M317 856.5h0M307 858.4h0M314.4 858.5h0M322.8 859.4h0M321.9 858.9h0M320.1 857.9h0M315.2 859.6h0M309.4 859.3h0M315.8 857.6h0M317.6 857.4h0M316.6 859.3h0M318.5 857.6h0M308.2 858.7h0M315.4 858.9h0M321.5 859.3h0M310.9 857.9h0M316.7 858.6h0M316.1 859.5h0M324 858.6h0M310.4 857.1h0M308.5 854.7h0M323.9 859.6h0M308.7 859.1h0M310.9 855.7h0M307.9 858.4h0M314.5 858.9h0M315.9 858.9h0M316.1 855.3h0M324.1 858h0M318.3 857.7h0M318.3 858.5h0M312.7 857.6h0M321.2 859.5h0M311.4 857.5h0M316.9 858h0M316.8 859.2h0M316.8 857.9h0M316.8 856.6h0M316.8 855.3h0M316.8 854h0M316.8 852.7h0M316.8 851.4h0M316.8 850.6h0M316.4 859.2h0M316.4 857.9h0M316.4 856.6h0M316.4 855.3h0M316.4 854h0M316.4 852.7h0M316.4 851.4h0M316.4 850.1h0M316.4 849.1h0M313 859.2h0M313 857.9h0M313 856.6h0M313 855.3h0M313 854h0M313 852.7h0M313 851.4h0M313 850.1h0M313 849.8h0M322.6 859.2h0M322.6 857.9h0M322.6 856.6h0M322.6 855.3h0M322.6 854h0M322.6 853.4h0M319.7 859.2h0M319.7 857.9h0M319.7 856.6h0M319.7 855.3h0M319.7 854h0M319.7 852.7h0M319.7 851.4h0M319.7 850.1h0M319.7 848.8h0M319.7 847.5h0M319.7 846.9h0" stroke="#606060" stroke-width="3.25" stroke-linecap="round" fill="none"/>
<path d="M313 835.9h0M313 843.5h0M307.5 832.5h0M307.4 834.6h0M307.5 836.4h0M307.6 837.9h0M307.4 840.1h0M307.4 842h0M307.4 843.8h0M307.6 845.6h0M307.6 847.6h0M307.6 849.1h0M307.5 851.2h0M307.5 852.8h0M307.4 854.4h0M307.6 856.4h0M312.9 836.2h0M313.1 838.4h0M322.5 833h0M322.5 834.8h0M322.6 836.4h0M322.6 838.2h0M322.4 839.6h0M322.4 841.6h0M322.5 843.9h0M322.4 845.4h0M322.6 847h0M322.6 848.5h0M322.6 850.5h0M322.5 852.5h0M322.4 854.2h0M322.6 856h0M319.5 839h0M319.5 840.7h0M319.5 842.1h0M319.4 844.3h0M319.6 846.1h0M319.6 847.9h0M319.4 849.4h0M319.5 851.2h0M319.6 853h0M319.5 854.6h0M319.6 856.1h0" stroke="#555555" stroke-width="3.25" stroke-linecap="round" fill="none"/>
<path d="M340.6 857.1h0M326.3 859h0M327.3 858.2h0M333.5 859.3h0M338.1 852.8h0M336.2 858.6h0M334.3 858.8h0M337.3 857.7h0M341.9 857h0M328.4 853.4h0M337.3 857.1h0M332.9 855.9h0M338.3 858.2h0M345.5 856h0M340.8 859.5h0M328.8 858.3h0M338.3 859.4h0M339.6 858.5h0M337.3 857.2h0M344.7 855.6h0M336.8 859.4h0M337.8 855.7h0M326.3 859.5h0M333.2 859.3h0M338.8 858.5h0M336.7 857.2h0M333.6 858.6h0M335.6 856.1h0M341.5 858.5h0M343.3 856.9h0M345.8 851.2h0M332.9 857.7h0M335.8 858.6h0M340.1 854.7h0M333.5 859h0M326.9 856.9h0M338.3 855.4h0M334.7 857.9h0M343 856.5h0M334.9 859.2h0M326.8 859.2h0M326.8 857.9h0M326.8 856.6h0M326.8 855.3h0M326.8 854h0M326.8 852.7h0M326.8 851.4h0M326.8 850.1h0M326.8 849.3h0M342.9 859.2h0M342.9 857.9h0M342.9 856.6h0M342.9 855.3h0M342.9 854h0M342.9 852.7h0M342.9 851.4h0M342.9 850.1h0M342.9 848.8h0M342.9 847.5h0M336 859.2h0M336 857.9h0M336 856.6h0M336 855.3h0M336 854h0M336 852.7h0M336 851.4h0M336 850.1h0M336 848.8h0M336 848.7h0M331.5 859.2h0M331.5 857.9h0M331.5 856.6h0M331.5 855.3h0M331.5 854h0M331.5 852.7h0M331.5 851.4h0M331.5 850.1h0M331.5 848.8h0M331.5 847.6h0M334.6 859.2h0M334.6 857.9h0M334.6 856.6h0M334.6 855.3h0M334.6 854h0M334.6 852.7h0M334.6 851.4h0M334.6 850.1h0M334.6 848.8h0M334.6 847.5h0M334.6 846.1h0M334.6 846.1h0" stroke="#777777" stroke-width="3.25" stroke-linecap="round" fill="none"/>
<path d="M335.5 831.7h0M335.5 839.2h0M335.5 842.2h0M329.5 847.3h0M340.5 846.8h0" stroke="#696969" stroke-width="3.25" stroke-linecap="round" fill="none"/>
<path d="M348.9 858.4h0M363.4 859.2h0M349.9 859.1h0M367.7 857.1h0M361.2 859.4h0M364 859.5h0M354.2 856.6h0M359.3 859.1h0M360.4 858.5h0M354.3 856.2h0M349.4 858.7h0M362.8 858.8h0M353.5 858h0M353.5 859.3h0M355.4 856.1h0M366.1 858.2h0M348.6 858.1h0M360.6 856h0M353.2 856.2h0M364.2 857.5h0M367.1 856.9h0M359.6 859.3h0M360.7 859.5h0M354.3 858.8h0M367.5 858.2h0M352.7 859.4h0M363.8 858.9h0M355 859.1h0M367.1 859h0M350.1 857.9h0M348.2 858h0M357.4 856.3h0M352.2 859.4h0M353.1 858.5h0M361.9 858.8h0M360 859.4h0M358.7 855.6h0M352.5 859.2h0M365.6 857.7h0M354.5 857.1h0M363.3 859.2h0M363.3 857.9h0M363.3 856.6h0M363.3 855.3h0M363.3 854h0M363.3 852.7h0M363.3 851.4h0M363.3 850.8h0M364.3 859.2h0M364.3 857.9h0M364.3 856.6h0M364.3 855.3h0M364.3 854h0M364.3 852.7h0M364.3 851.4h0M364.3 850.8h0M355.3 859.2h0M355.3 857.9h0M355.3 856.6h0M355.3 855.3h0M355.3 854h0M355.3 852.7h0M355.3 851.4h0M355.3 850.3h0M363.5 859.2h0M363.5 857.9h0M363.5 856.6h0M363.5 855.3h0M363.5 854h0M363.5 852.7h0M363.5 852h0M364.7 859.2h0M364.7 857.9h0M364.7 856.6h0M364.7 855.3h0M364.7 854h0M364.7 853.2h0" stroke="#8c8c8c" stroke-width="3.25" stroke-linecap="round" fill="none"/>
<path d="M347.5 834.2h0M359.5 845.5h0M347.5 842.5h0M347.4 844.5h0M347.4 846.8h0M347.5 848.4h0M347.6 849.8h0M347.5 851.8h0M347.6 854.1h0M347.5 856h0" stroke="#7b7b7b" stroke-width="3.25" stroke-linecap="round" fill="none"/>
<path d="M380.6 856.8h0M374.4 857.5h0M372 858.3h0M372.3 856.1h0M387.3 857.8h0M373.5 859h0M372.9 857.9h0M382.5 859.5h0M382.1 856.5h0M376.6 856.9h0M373.7 857h0M382.6 859.1h0M387.3 858.3h0M375.4 857.7h0M370.5 857.7h0M380.7 859.4h0M377.5 858.1h0M371 858.4h0M370.2 857h0M371.6 853.4h0M379.3 858.7h0M382 857.2h0M379.7 858.1h0M375.7 857.3h0M385.4 854.4h0M388.9 857.4h0M378.2 859.5h0M377.3 859.3h0M385.9 859.1h0M378.3 856.4h0M370.5 859.6h0M374.5 859.1h0M379.9 859h0M389.1 854.4h0M380.5 857.1h0M384.7 855.2h0M388.4 858.2h0M373.2 858.1h0M372.4 859.2h0M372.4 857.9h0M372.4 856.6h0M372.4 855.3h0M372.4 854h0M372.4 852.7h0M372.4 851.4h0M372.4 850.1h0M372.4 848.8h0M372.4 848.2h0M388.1 859.2h0M388.1 857.9h0M388.1 856.6h0M388.1 855.3h0M388.1 854h0M388.1 853.4h0M376.2 859.2h0M376.2 857.9h0M376.2 856.6h0M376.2 855.3h0M376.2 854h0M376.2 852.7h0M376.2 851.4h0M376.2 850.1h0M376.2 849.3h0M382.6 859.2h0M382.6 857.9h0M382.6 856.6h0M382.6 855.3h0M382.6 854h0M382.6 852.7h0M382.6 851.4h0M382.6 850.1h0M382.6 849.1h0M374.1 859.2h0M374.1 857.9h0M374.1 856.6h0M374.1 855.3h0M374.1 854h0M374.1 852.7h0M374.1 851.4h0M374.1 850.1h0M374.1 848.8h0M374.1 847.5h0M374.1 846.1h0M374.1 845.4h0" stroke="#757575" stroke-width="3.25" stroke-linecap="round" fill="none"/>
<path d="M370.5 831h0M368.8 838.6h0M375 847.7h0M368.8 842.5h0M368.7 844.7h0M368.8 846.6h0M368.7 848.2h0M368.9 850.1h0M368.9 852.3h0M368.7 854h0M368.9 855.8h0M382.5 837.5h0M382.6 839.4h0M382.5 841.3h0M382.4 843.1h0M382.4 844.9h0M382.6 846.7h0M382.4 848.9h0M382.5 850.7h0M382.6 852.3h0M382.4 853.8h0M382.4 855.8h0" stroke="#676767" stroke-width="3.25" stroke-linecap="round" fill="none"/>
<path d="M403.2 858.4h0M403.3 859.4h0M397.9 858.9h0M394.2 855.5h0M402.9 857.9h0M404.4 857.3h0M403.9 858.8h0M393.3 858.6h0M401.7 855.3h0M399 858h0M392 859.4h0M398.5 856.7h0M398.8 857h0M395.5 858.7h0M402.4 859.1h0M395.6 857.7h0M399.9 859.2h0M400.4 852.8h0M403 856.2h0M392.2 859.3h0M404.6 858.2h0M400.6 856.6h0M396 859.4h0M391.7 859h0M392.8 859h0M401.7 855.3h0M399.3 855.2h0M393.5 859.2h0M393.5 857.9h0M393.5 856.6h0M393.5 855.3h0M393.5 854h0M393.5 852.7h0M393.5 851.4h0M393.5 850.1h0M398.4 859.2h0M398.4 857.9h0M398.4 856.6h0M398.4 855.3h0M398.4 854.1h0M404.8 859.2h0M404.8 857.9h0M404.8 856.6h0M404.8 855.3h0M404.8 854h0M404.8 852.7h0M404.8 851.4h0M404.8 850.1h0M404.8 848.8h0M404.8 848.1h0" stroke="#636363" stroke-width="3.25" stroke-linecap="round" fill="none"/>
<path d="M390.5 834.7h0M390.5 842.8h0M390.5 846.8h0M399.5 830.2h0M394.9 840h0M394.9 841.8h0M394.9 843.4h0M395.1 844.9h0M395 846.5h0M394.9 848.6h0M394.9 850.5h0M394.9 852h0M394.9 853.8h0M394.9 855.6h0" stroke="#575757" stroke-width="3.25" stroke-linecap="round" fill="none"/>
<path d="M409.2 859.2h0M413.5 855.6h0M409.4 859.3h0M413.9 858.6h0M406.8 855.9h0M414.2 859h0M412 859.4h0M409.3 856.4h0M410.2 858.7h0M415.1 859.4h0M413 854.3h0M418.2 859.4h0M416.7 858.5h0M413.8 859.2h0M407.7 854.3h0M410.4 852.9h0M408.6 859.1h0M412.9 858.7h0M406.7 858.4h0M418.8 858.7h0M413.8 855.9h0M416.7 856.2h0M414.8 859.2h0M414.8 857.9h0M414.8 856.6h0M414.8 855.3h0M414.8 854h0M414.8 852.7h0M414.8 851.4h0M414.8 850.2h0M410.2 859.2h0M410.2 857.9h0M410.2 856.6h0M410.2 855.3h0M410.2 854.3h0M408.6 859.2h0M408.6 857.9h0M408.6 856.6h0M408.6 855.3h0M408.6 854h0M408.6 852.7h0M408.6 851.9h0" stroke="#494949" stroke-width="3.25" stroke-linecap="round" fill="none"/>
<path d="M410 846.8h0M409.9 847h0M410.1 849.2h0M410.1 851.2h0M410.1 853h0M409.9 855.2h0" stroke="#404040" stroke-width="3.25" stroke-linecap="round" fill="none"/>
<path d="M430.4 856.8h0M428 855.8h0M428.5 856.2h0M425 855.5h0M422.7 855.3h0M424.8 859.4h0M422.6 859.2h0M425.8 859.3h0M423 858.5h0M424.2 859.4h0M427 858.1h0M421.4 859.4h0M431.8 858.2h0M422.1 857.9h0M429.4 856.9h0M428.7 855.9h0M426.4 857.8h0M423.3 857.8h0M427.6 858.9h0M425.5 856.7h0M423.9 858.2h0M422.1 858.9h0M430.9 857.7h0M431.1 859.3h0M423.9 859.2h0M423.9 857.9h0M423.9 856.6h0M423.9 855.3h0M423.9 854h0M423.9 852.7h0M423.9 851.4h0M428.7 859.2h0M428.7 857.9h0M428.7 856.6h0M428.7 855.3h0M428.7 854h0M428.7 852.7h0M428.7 851.8h0" stroke="#414141" stroke-width="3.25" stroke-linecap="round" fill="none"/>
<path d="M430.5 841h0M423 850.6h0M427.7 842.3h0M427.6 844.1h0M427.5 846h0M427.6 848.2h0M427.7 850h0M427.7 851.7h0M427.7 853.5h0M427.6 855h0" stroke="#393939" stroke-width="3.25" stroke-linecap="round" fill="none"/>
<path d="M438.5 855h0M439.8 852.4h0M439.4 854.7h0M436.4 857.9h0M439.5 859.3h0M436.9 853.2h0M441.3 856.5h0M434.4 858.6h0M442.2 859.2h0M441.6 857.4h0M435.7 859h0M442.6 859.5h0M443.1 857h0M436.7 859.4h0M441 857.7h0M443.2 858.4h0M435.4 852.9h0M437.7 854.8h0M443.7 858.7h0M438 857.7h0M435.7 859.5h0M441.8 859.2h0M441.8 857.9h0M441.8 856.6h0M441.8 855.3h0M441.8 854h0M441.8 852.9h0M440.7 859.2h0M440.7 857.9h0M440.7 856.6h0M440.7 855.3h0M440.7 854.2h0" stroke="#575757" stroke-width="3.25" stroke-linecap="round" fill="none"/>
<path d="M440.3 851.2h0" stroke="#4d4d4d" stroke-width="3.25" stroke-linecap="round" fill="none"/>
<path d="M451.7 859.5h0M454.5 859.4h0M446.6 859h0M447.3 857.7h0M450.4 858.6h0M447.9 857.2h0M449.2 858.5h0M448 858.3h0M447.5 857.6h0M455.7 857.6h0M446 859.1h0M451.2 858.7h0M455 859.5h0M455 857.8h0M450.6 858.8h0M446.4 859h0M453.7 858.2h0M452.5 858.3h0M453.6 856.6h0M451 858.4h0M449.1 859.2h0M449.1 857.9h0M449.1 856.6h0M449.1 855.3h0M449.1 854h0M449.1 852.7h0M449.1 852.7h0M449.7 859.2h0M449.7 857.9h0M449.7 856.6h0M449.7 855.3h0M449.7 854h0M449.7 852.7h0M449.7 851.9h0" stroke="#6c6c6c" stroke-width="3.25" stroke-linecap="round" fill="none"/>
<path d="M453 844.1h0" stroke="#5f5f5f" stroke-width="3.25" stroke-linecap="round" fill="none"/>
<path d="M467.5 853.5h0M461.3 855.6h0M466.8 859.3h0M466.1 859.5h0M459.7 858.2h0M465.5 859.1h0M462.5 859.3h0M460.3 857.3h0M464.8 857.2h0M458.4 858.3h0M460.9 858.9h0M466.5 855.9h0M466 858.1h0M460 859.2h0M466.9 859.2h0M463.1 859.3h0M460 855.1h0M466.5 858.5h0M467.1 859.2h0M467.1 857.9h0M467.1 856.6h0M467.1 855.3h0M467.1 854h0M467.1 852.7h0M467.1 852.4h0M463.3 859.2h0M463.3 857.9h0M463.3 856.6h0M463.3 855.3h0M463.3 854.8h0" stroke="#838383" stroke-width="3.25" stroke-linecap="round" fill="none"/>
<path d="M461.2 820.9h0M461.2 823.3h0M461.2 825.7h0M461.2 829.3h0M461.2 832.9h0M461.2 838.8h0M461.2 841h0M458.6 845.5h0M458.8 847.1h0M458.8 849.2h0M458.6 851.5h0M458.6 853.6h0M458.7 855.7h0" stroke="#737373" stroke-width="3.25" stroke-linecap="round" fill="none"/>
<path d="M476.3 858.1h0M470.4 858.2h0M473.7 857.2h0M476 859.5h0M477 858.3h0M474.9 859.1h0M476.7 857.1h0M473.4 856.8h0M474.3 859.1h0M476.1 855.9h0M476.6 857.2h0M472.3 856.3h0M474.1 859.2h0M473.5 858.5h0M476.2 859.2h0M476.2 857.9h0M476.2 856.6h0M476.2 855.3h0M476.2 854h0M476.2 852.7h0M476.2 852.6h0" stroke="#7d7d7d" stroke-width="3.25" stroke-linecap="round" fill="none"/>
<path d="M474.5 847.9h0" stroke="#6e6e6e" stroke-width="3.25" stroke-linecap="round" fill="none"/>
<path d="M486.5 852.8h0M483.4 853.5h0M485.3 851.8h0M478.7 852.7h0M480.5 849.8h0M485 853.9h0M485.9 854.1h0M481.4 853.8h0M481.3 852.4h0M485.3 854.1h0M482.7 852.5h0M483.8 853.3h0M479.5 853.3h0M482.1 850.6h0M484.3 851.4h0M486.3 853.8h0M486.3 852.5h0M486.3 851.2h0M486.3 849.9h0M486.3 848.5h0M486.3 847.2h0M486.3 847.2h0" stroke="#6e6e6e" stroke-width="3.25" stroke-linecap="round" fill="none"/>
<path d="M481.9 834h0M482 838h0M481.8 840.2h0M481.9 842.2h0M486.6 840.2h0M486.7 842.4h0M486.6 844.3h0M486.6 846h0M486.6 848.2h0M486.6 849.9h0M486.7 852.2h0M486.6 853.8h0M486.5 856.1h0" stroke="#616161" stroke-width="3.25" stroke-linecap="round" fill="none"/>
<path d="M490.7 859.4h0M491.1 859.5h0M491.4 858.5h0M489.8 856h0M492.4 859.3h0M489.6 859h0M491 859.5h0M492.3 858.7h0M492.2 858.1h0M488.9 859.2h0M488.9 857.9h0M488.9 856.6h0M488.9 855.3h0M488.9 854h0M488.9 853.3h0" stroke="#4f4f4f" stroke-width="3.25" stroke-linecap="round" fill="none"/>
<path d="M493.6 844.1h0M492.9 848h0M492.9 849.5h0M493.1 851.5h0M493.1 853.1h0M493.1 854.9h0" stroke="#454545" stroke-width="3.25" stroke-linecap="round" fill="none"/>
<path d="M495.6 858.3h0M498.8 858h0M496.9 858.8h0M499.6 853.9h0M499.2 858.9h0M496.1 858.9h0M497.9 859.5h0M498.1 859.5h0M499.9 859.5h0M495 857.5h0M495.6 857.7h0M496.4 857.9h0M499.2 859.3h0M495.8 859.2h0M495.8 857.9h0M495.8 856.6h0M495.8 855.3h0M495.8 854.7h0" stroke="#424242" stroke-width="3.25" stroke-linecap="round" fill="none"/>
<line x1="52" y1="814.6" x2="519" y2="814.6" stroke="#8a8a8a" stroke-width="1.1" stroke-dasharray="1.2 1.2"/>
<rect x="50.5" y="641.7" width="468.0" height="262.3" fill="none" stroke="#565656" stroke-width="1.25"/>
<line x1="47.8" y1="894.1" x2="50.5" y2="894.1" stroke="#565656" stroke-width="1"/>
<line x1="47.8" y1="840" x2="50.5" y2="840" stroke="#565656" stroke-width="1"/>
<line x1="47.8" y1="785.5" x2="50.5" y2="785.5" stroke="#565656" stroke-width="1"/>
<line x1="47.8" y1="730.66" x2="50.5" y2="730.66" stroke="#565656" stroke-width="1"/>
<line x1="47.8" y1="675.9" x2="50.5" y2="675.9" stroke="#565656" stroke-width="1"/>
<line x1="85.5" y1="904" x2="85.5" y2="907.6" stroke="#565656" stroke-width="1"/>
<line x1="119.5" y1="904" x2="119.5" y2="907.6" stroke="#565656" stroke-width="1"/>
<line x1="153.5" y1="904" x2="153.5" y2="907.6" stroke="#565656" stroke-width="1"/>
<line x1="185.5" y1="904" x2="185.5" y2="907.6" stroke="#565656" stroke-width="1"/>
<line x1="214.5" y1="904" x2="214.5" y2="907.6" stroke="#565656" stroke-width="1"/>
<line x1="243.5" y1="904" x2="243.5" y2="907.6" stroke="#565656" stroke-width="1"/>
<line x1="270.5" y1="904" x2="270.5" y2="907.6" stroke="#565656" stroke-width="1"/>
<line x1="295.5" y1="904" x2="295.5" y2="907.6" stroke="#565656" stroke-width="1"/>
<line x1="317.5" y1="904" x2="317.5" y2="907.6" stroke="#565656" stroke-width="1"/>
<line x1="338.5" y1="904" x2="338.5" y2="907.6" stroke="#565656" stroke-width="1"/>
<line x1="359.5" y1="904" x2="359.5" y2="907.6" stroke="#565656" stroke-width="1"/>
<line x1="380.5" y1="904" x2="380.5" y2="907.6" stroke="#565656" stroke-width="1"/>
<line x1="398.5" y1="904" x2="398.5" y2="907.6" stroke="#565656" stroke-width="1"/>
<line x1="413.5" y1="904" x2="413.5" y2="907.6" stroke="#565656" stroke-width="1"/>
<line x1="427.5" y1="904" x2="427.5" y2="907.6" stroke="#565656" stroke-width="1"/>
<line x1="440.5" y1="904" x2="440.5" y2="907.6" stroke="#565656" stroke-width="1"/>
<line x1="452.5" y1="904" x2="452.5" y2="907.6" stroke="#565656" stroke-width="1"/>
<line x1="464.5" y1="904" x2="464.5" y2="907.6" stroke="#565656" stroke-width="1"/>
<line x1="475.5" y1="904" x2="475.5" y2="907.6" stroke="#565656" stroke-width="1"/>
<line x1="484.5" y1="904" x2="484.5" y2="907.6" stroke="#565656" stroke-width="1"/>
<line x1="492.5" y1="904" x2="492.5" y2="907.6" stroke="#565656" stroke-width="1"/>
<line x1="498.5" y1="904" x2="498.5" y2="907.6" stroke="#565656" stroke-width="1"/>
</g>
<text x="43.6" y="257.65" text-anchor="end" class="yt" textLength="5.6" lengthAdjust="spacingAndGlyphs">0</text>
<text x="43.6" y="200.9" text-anchor="end" class="yt" textLength="5.6" lengthAdjust="spacingAndGlyphs">5</text>
<text x="43.6" y="144.35" text-anchor="end" class="yt" textLength="9.3" lengthAdjust="spacingAndGlyphs">10</text>
<text x="43.6" y="87" text-anchor="end" class="yt" textLength="9.3" lengthAdjust="spacingAndGlyphs">15</text>
<text x="43.6" y="30.1" text-anchor="end" class="yt" textLength="10.3" lengthAdjust="spacingAndGlyphs">20</text>
<text x="84.9" y="276.9" text-anchor="middle" class="xt" textLength="3.55" lengthAdjust="spacingAndGlyphs">1</text>
<text x="119.2" y="276.9" text-anchor="middle" class="xt" textLength="3.55" lengthAdjust="spacingAndGlyphs">2</text>
<text x="153.5" y="276.9" text-anchor="middle" class="xt" textLength="3.55" lengthAdjust="spacingAndGlyphs">3</text>
<text x="184.7" y="276.9" text-anchor="middle" class="xt" textLength="3.55" lengthAdjust="spacingAndGlyphs">4</text>
<text x="214.1" y="276.9" text-anchor="middle" class="xt" textLength="3.55" lengthAdjust="spacingAndGlyphs">5</text>
<text x="243.5" y="276.9" text-anchor="middle" class="xt" textLength="3.55" lengthAdjust="spacingAndGlyphs">6</text>
<text x="270.4" y="276.9" text-anchor="middle" class="xt" textLength="3.55" lengthAdjust="spacingAndGlyphs">7</text>
<text x="294.9" y="276.9" text-anchor="middle" class="xt" textLength="3.55" lengthAdjust="spacingAndGlyphs">8</text>
<text x="316.7" y="276.9" text-anchor="middle" class="xt" textLength="3.55" lengthAdjust="spacingAndGlyphs">9</text>
<text x="338.3" y="276.9" text-anchor="middle" class="xt" textLength="7.0" lengthAdjust="spacingAndGlyphs">10</text>
<text x="358.7" y="276.9" text-anchor="middle" class="xt" textLength="7.0" lengthAdjust="spacingAndGlyphs">11</text>
<text x="380.2" y="276.9" text-anchor="middle" class="xt" textLength="7.0" lengthAdjust="spacingAndGlyphs">12</text>
<text x="398.2" y="276.9" text-anchor="middle" class="xt" textLength="7.0" lengthAdjust="spacingAndGlyphs">13</text>
<text x="413.4" y="276.9" text-anchor="middle" class="xt" textLength="7.0" lengthAdjust="spacingAndGlyphs">14</text>
<text x="427.6" y="276.9" text-anchor="middle" class="xt" textLength="7.0" lengthAdjust="spacingAndGlyphs">15</text>
<text x="440.4" y="276.9" text-anchor="middle" class="xt" textLength="7.0" lengthAdjust="spacingAndGlyphs">16</text>
<text x="452.4" y="276.9" text-anchor="middle" class="xt" textLength="7.0" lengthAdjust="spacingAndGlyphs">17</text>
<text x="464.2" y="276.9" text-anchor="middle" class="xt" textLength="7.0" lengthAdjust="spacingAndGlyphs">18</text>
<text x="475" y="276.9" text-anchor="middle" class="xt" textLength="7.0" lengthAdjust="spacingAndGlyphs">19</text>
<text x="483.9" y="276.9" text-anchor="middle" class="xt" textLength="7.0" lengthAdjust="spacingAndGlyphs">20</text>
<text x="496.8" y="276.9" text-anchor="middle" class="xt" textLength="7.0" lengthAdjust="spacingAndGlyphs">22</text>
<text x="284.1" y="293.5" text-anchor="middle" class="xl" textLength="70" lengthAdjust="spacingAndGlyphs">Chromosome</text>
<g transform="translate(23 148.9) rotate(-90)" class="yl"><text x="-0.4" y="0">−</text><text x="9.3" y="0">log</text><text x="24.6" y="3.9" class="sub">10</text><text x="31.4" y="0">(P)</text></g>
<text x="1.2" y="18.4" class="pl">A</text>
<text x="43.6" y="577.85" text-anchor="end" class="yt" textLength="5.6" lengthAdjust="spacingAndGlyphs">0</text>
<text x="43.6" y="523.75" text-anchor="end" class="yt" textLength="5.6" lengthAdjust="spacingAndGlyphs">5</text>
<text x="43.6" y="469.25" text-anchor="end" class="yt" textLength="9.3" lengthAdjust="spacingAndGlyphs">10</text>
<text x="43.6" y="414.41" text-anchor="end" class="yt" textLength="9.3" lengthAdjust="spacingAndGlyphs">15</text>
<text x="43.6" y="359.4" text-anchor="end" class="yt" textLength="10.3" lengthAdjust="spacingAndGlyphs">20</text>
<text x="84.9" y="597.4" text-anchor="middle" class="xt" textLength="3.55" lengthAdjust="spacingAndGlyphs">1</text>
<text x="119.2" y="597.4" text-anchor="middle" class="xt" textLength="3.55" lengthAdjust="spacingAndGlyphs">2</text>
<text x="153.5" y="597.4" text-anchor="middle" class="xt" textLength="3.55" lengthAdjust="spacingAndGlyphs">3</text>
<text x="184.7" y="597.4" text-anchor="middle" class="xt" textLength="3.55" lengthAdjust="spacingAndGlyphs">4</text>
<text x="214.1" y="597.4" text-anchor="middle" class="xt" textLength="3.55" lengthAdjust="spacingAndGlyphs">5</text>
<text x="243.5" y="597.4" text-anchor="middle" class="xt" textLength="3.55" lengthAdjust="spacingAndGlyphs">6</text>
<text x="270.4" y="597.4" text-anchor="middle" class="xt" textLength="3.55" lengthAdjust="spacingAndGlyphs">7</text>
<text x="294.9" y="597.4" text-anchor="middle" class="xt" textLength="3.55" lengthAdjust="spacingAndGlyphs">8</text>
<text x="316.7" y="597.4" text-anchor="middle" class="xt" textLength="3.55" lengthAdjust="spacingAndGlyphs">9</text>
<text x="338.3" y="597.4" text-anchor="middle" class="xt" textLength="7.0" lengthAdjust="spacingAndGlyphs">10</text>
<text x="358.7" y="597.4" text-anchor="middle" class="xt" textLength="7.0" lengthAdjust="spacingAndGlyphs">11</text>
<text x="380.2" y="597.4" text-anchor="middle" class="xt" textLength="7.0" lengthAdjust="spacingAndGlyphs">12</text>
<text x="398.2" y="597.4" text-anchor="middle" class="xt" textLength="7.0" lengthAdjust="spacingAndGlyphs">13</text>
<text x="413.4" y="597.4" text-anchor="middle" class="xt" textLength="7.0" lengthAdjust="spacingAndGlyphs">14</text>
<text x="427.6" y="597.4" text-anchor="middle" class="xt" textLength="7.0" lengthAdjust="spacingAndGlyphs">15</text>
<text x="440.4" y="597.4" text-anchor="middle" class="xt" textLength="7.0" lengthAdjust="spacingAndGlyphs">16</text>
<text x="452.4" y="597.4" text-anchor="middle" class="xt" textLength="7.0" lengthAdjust="spacingAndGlyphs">17</text>
<text x="464.2" y="597.4" text-anchor="middle" class="xt" textLength="7.0" lengthAdjust="spacingAndGlyphs">18</text>
<text x="475" y="597.4" text-anchor="middle" class="xt" textLength="7.0" lengthAdjust="spacingAndGlyphs">19</text>
<text x="483.9" y="597.4" text-anchor="middle" class="xt" textLength="7.0" lengthAdjust="spacingAndGlyphs">20</text>
<text x="496.8" y="597.4" text-anchor="middle" class="xt" textLength="7.0" lengthAdjust="spacingAndGlyphs">22</text>
<text x="284.1" y="614" text-anchor="middle" class="xl" textLength="70" lengthAdjust="spacingAndGlyphs">Chromosome</text>
<g transform="translate(23 478.9) rotate(-90)" class="yl"><text x="-0.4" y="0">−</text><text x="9.3" y="0">log</text><text x="24.6" y="3.9" class="sub">10</text><text x="31.4" y="0">(P)</text></g>
<text x="0.1" y="338.4" class="pl">B</text>
<text x="43.6" y="897.85" text-anchor="end" class="yt" textLength="5.6" lengthAdjust="spacingAndGlyphs">0</text>
<text x="43.6" y="843.75" text-anchor="end" class="yt" textLength="5.6" lengthAdjust="spacingAndGlyphs">5</text>
<text x="43.6" y="789.25" text-anchor="end" class="yt" textLength="9.3" lengthAdjust="spacingAndGlyphs">10</text>
<text x="43.6" y="734.41" text-anchor="end" class="yt" textLength="9.3" lengthAdjust="spacingAndGlyphs">15</text>
<text x="43.6" y="679.65" text-anchor="end" class="yt" textLength="10.3" lengthAdjust="spacingAndGlyphs">20</text>
<text x="84.9" y="917.2" text-anchor="middle" class="xt" textLength="3.55" lengthAdjust="spacingAndGlyphs">1</text>
<text x="119.2" y="917.2" text-anchor="middle" class="xt" textLength="3.55" lengthAdjust="spacingAndGlyphs">2</text>
<text x="153.5" y="917.2" text-anchor="middle" class="xt" textLength="3.55" lengthAdjust="spacingAndGlyphs">3</text>
<text x="184.7" y="917.2" text-anchor="middle" class="xt" textLength="3.55" lengthAdjust="spacingAndGlyphs">4</text>
<text x="214.1" y="917.2" text-anchor="middle" class="xt" textLength="3.55" lengthAdjust="spacingAndGlyphs">5</text>
<text x="243.5" y="917.2" text-anchor="middle" class="xt" textLength="3.55" lengthAdjust="spacingAndGlyphs">6</text>
<text x="270.4" y="917.2" text-anchor="middle" class="xt" textLength="3.55" lengthAdjust="spacingAndGlyphs">7</text>
<text x="294.9" y="917.2" text-anchor="middle" class="xt" textLength="3.55" lengthAdjust="spacingAndGlyphs">8</text>
<text x="316.7" y="917.2" text-anchor="middle" class="xt" textLength="3.55" lengthAdjust="spacingAndGlyphs">9</text>
<text x="338.3" y="917.2" text-anchor="middle" class="xt" textLength="7.0" lengthAdjust="spacingAndGlyphs">10</text>
<text x="358.7" y="917.2" text-anchor="middle" class="xt" textLength="7.0" lengthAdjust="spacingAndGlyphs">11</text>
<text x="380.2" y="917.2" text-anchor="middle" class="xt" textLength="7.0" lengthAdjust="spacingAndGlyphs">12</text>
<text x="398.2" y="917.2" text-anchor="middle" class="xt" textLength="7.0" lengthAdjust="spacingAndGlyphs">13</text>
<text x="413.4" y="917.2" text-anchor="middle" class="xt" textLength="7.0" lengthAdjust="spacingAndGlyphs">14</text>
<text x="427.6" y="917.2" text-anchor="middle" class="xt" textLength="7.0" lengthAdjust="spacingAndGlyphs">15</text>
<text x="440.4" y="917.2" text-anchor="middle" class="xt" textLength="7.0" lengthAdjust="spacingAndGlyphs">16</text>
<text x="452.4" y="917.2" text-anchor="middle" class="xt" textLength="7.0" lengthAdjust="spacingAndGlyphs">17</text>
<text x="464.2" y="917.2" text-anchor="middle" class="xt" textLength="7.0" lengthAdjust="spacingAndGlyphs">18</text>
<text x="475" y="917.2" text-anchor="middle" class="xt" textLength="7.0" lengthAdjust="spacingAndGlyphs">19</text>
<text x="483.9" y="917.2" text-anchor="middle" class="xt" textLength="7.0" lengthAdjust="spacingAndGlyphs">20</text>
<text x="496.8" y="917.2" text-anchor="middle" class="xt" textLength="7.0" lengthAdjust="spacingAndGlyphs">22</text>
<text x="284.1" y="933.8" text-anchor="middle" class="xl" textLength="70" lengthAdjust="spacingAndGlyphs">Chromosome</text>
<g transform="translate(23 798.9) rotate(-90)" class="yl"><text x="-0.4" y="0">−</text><text x="9.3" y="0">log</text><text x="24.6" y="3.9" class="sub">10</text><text x="31.4" y="0">(P)</text></g>
<text x="0.4" y="659" class="pl">C</text>
</svg>
</body></html>
